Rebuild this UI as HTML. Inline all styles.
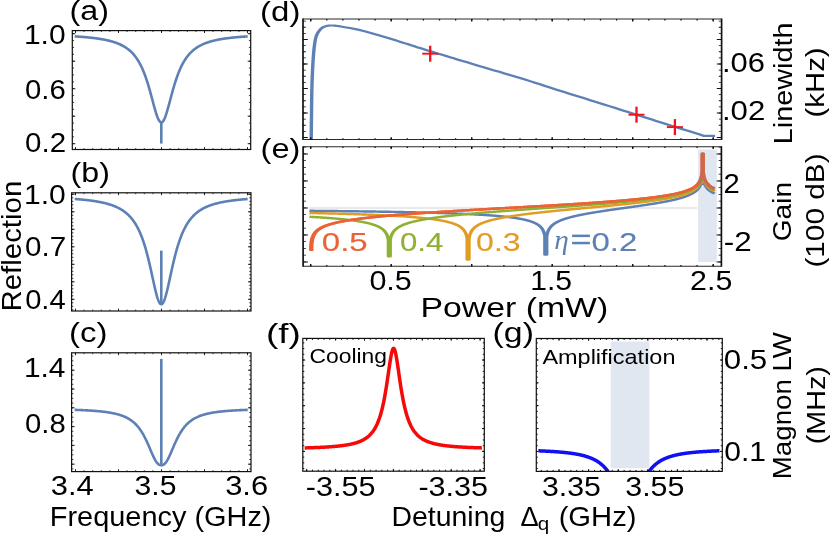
<!DOCTYPE html>
<html><head><meta charset="utf-8"><title>figure</title>
<style>html,body{margin:0;padding:0;background:#fff;}body{width:830px;height:535px;overflow:hidden;font-family:"Liberation Sans",sans-serif;}svg{display:block;will-change:transform;transform:translateZ(0)}</style>
</head><body>
<svg width="830" height="535" viewBox="0 0 830 535">
<rect width="830" height="535" fill="#fff"/>
<path d="M74.70,36.38 L75.20,36.42 L75.70,36.45 L76.20,36.48 L76.70,36.51 L77.20,36.54 L77.70,36.57 L78.20,36.61 L78.70,36.64 L79.20,36.68 L79.70,36.71 L80.20,36.75 L80.70,36.79 L81.20,36.82 L81.70,36.86 L82.20,36.90 L82.70,36.94 L83.20,36.98 L83.70,37.02 L84.20,37.06 L84.70,37.10 L85.20,37.15 L85.70,37.19 L86.20,37.23 L86.70,37.28 L87.20,37.33 L87.70,37.37 L88.20,37.42 L88.70,37.47 L89.20,37.52 L89.70,37.57 L90.20,37.63 L90.70,37.68 L91.20,37.73 L91.70,37.79 L92.20,37.85 L92.70,37.90 L93.20,37.96 L93.70,38.02 L94.20,38.08 L94.70,38.15 L95.20,38.21 L95.70,38.28 L96.20,38.34 L96.70,38.41 L97.20,38.48 L97.70,38.55 L98.20,38.63 L98.70,38.70 L99.20,38.78 L99.70,38.85 L100.20,38.93 L100.70,39.02 L101.20,39.10 L101.70,39.18 L102.20,39.27 L102.70,39.36 L103.20,39.45 L103.70,39.55 L104.20,39.64 L104.70,39.74 L105.20,39.84 L105.70,39.94 L106.20,40.05 L106.70,40.16 L107.20,40.27 L107.70,40.38 L108.20,40.50 L108.70,40.62 L109.20,40.74 L109.70,40.87 L110.20,41.00 L110.70,41.13 L111.20,41.27 L111.70,41.41 L112.20,41.55 L112.70,41.70 L113.20,41.85 L113.70,42.01 L114.20,42.17 L114.70,42.33 L115.20,42.50 L115.70,42.68 L116.20,42.85 L116.70,43.04 L117.20,43.23 L117.70,43.43 L118.20,43.63 L118.70,43.83 L119.20,44.05 L119.70,44.27 L120.20,44.50 L120.70,44.73 L121.20,44.97 L121.70,45.22 L122.20,45.48 L122.70,45.74 L123.20,46.02 L123.70,46.30 L124.20,46.59 L124.70,46.89 L125.20,47.21 L125.70,47.53 L126.20,47.86 L126.70,48.21 L127.20,48.56 L127.70,48.93 L128.20,49.32 L128.70,49.71 L129.20,50.12 L129.70,50.54 L130.20,50.98 L130.70,51.44 L131.20,51.91 L131.70,52.40 L132.20,52.91 L132.70,53.44 L133.20,53.98 L133.70,54.55 L134.20,55.14 L134.70,55.75 L135.20,56.39 L135.70,57.04 L136.20,57.73 L136.70,58.44 L137.20,59.18 L137.70,59.95 L138.20,60.75 L138.70,61.58 L139.20,62.44 L139.70,63.34 L140.20,64.27 L140.70,65.23 L141.20,66.24 L141.70,67.28 L142.20,68.37 L142.70,69.50 L143.20,70.67 L143.70,71.88 L144.20,73.14 L144.70,74.44 L145.20,75.79 L145.70,77.19 L146.20,78.63 L146.70,80.13 L147.20,81.66 L147.70,83.25 L148.20,84.88 L148.70,86.55 L149.20,88.27 L149.70,90.02 L150.20,91.81 L150.70,93.63 L151.20,95.48 L151.70,97.34 L152.20,99.22 L152.70,101.10 L153.20,102.98 L153.70,104.85 L154.20,106.68 L154.70,108.48 L155.20,110.23 L155.70,111.92 L156.20,113.53 L156.70,115.05 L157.20,116.46 L157.70,117.75 L158.20,118.90 L158.70,119.91 L159.20,120.76 L159.70,121.44 L160.20,121.94 L160.70,122.26 L161.20,122.40 L161.70,122.34 L162.20,122.09 L162.70,121.66 L163.20,121.05 L163.70,120.27 L164.20,119.32 L164.70,118.23 L165.20,116.99 L165.70,115.62 L166.20,114.15 L166.70,112.57 L167.20,110.92 L167.70,109.19 L168.20,107.41 L168.70,105.58 L169.20,103.73 L169.70,101.86 L170.20,99.97 L170.70,98.09 L171.20,96.22 L171.70,94.37 L172.20,92.54 L172.70,90.74 L173.20,88.97 L173.70,87.24 L174.20,85.54 L174.70,83.90 L175.20,82.29 L175.70,80.74 L176.20,79.22 L176.70,77.76 L177.20,76.34 L177.70,74.98 L178.20,73.65 L178.70,72.38 L179.20,71.15 L179.70,69.96 L180.20,68.82 L180.70,67.71 L181.20,66.65 L181.70,65.63 L182.20,64.65 L182.70,63.70 L183.20,62.79 L183.70,61.92 L184.20,61.07 L184.70,60.26 L185.20,59.48 L185.70,58.73 L186.20,58.01 L186.70,57.32 L187.20,56.65 L187.70,56.00 L188.20,55.38 L188.70,54.78 L189.20,54.21 L189.70,53.65 L190.20,53.12 L190.70,52.60 L191.20,52.11 L191.70,51.63 L192.20,51.16 L192.70,50.72 L193.20,50.29 L193.70,49.87 L194.20,49.47 L194.70,49.08 L195.20,48.71 L195.70,48.35 L196.20,48.00 L196.70,47.66 L197.20,47.33 L197.70,47.02 L198.20,46.71 L198.70,46.42 L199.20,46.13 L199.70,45.85 L200.20,45.58 L200.70,45.32 L201.20,45.07 L201.70,44.83 L202.20,44.59 L202.70,44.36 L203.20,44.14 L203.70,43.92 L204.20,43.71 L204.70,43.51 L205.20,43.31 L205.70,43.11 L206.20,42.93 L206.70,42.75 L207.20,42.57 L207.70,42.40 L208.20,42.23 L208.70,42.07 L209.20,41.91 L209.70,41.76 L210.20,41.61 L210.70,41.46 L211.20,41.32 L211.70,41.18 L212.20,41.05 L212.70,40.92 L213.20,40.79 L213.70,40.67 L214.20,40.55 L214.70,40.43 L215.20,40.31 L215.70,40.20 L216.20,40.09 L216.70,39.99 L217.20,39.88 L217.70,39.78 L218.20,39.68 L218.70,39.58 L219.20,39.49 L219.70,39.40 L220.20,39.31 L220.70,39.22 L221.20,39.13 L221.70,39.05 L222.20,38.97 L222.70,38.89 L223.20,38.81 L223.70,38.73 L224.20,38.65 L224.70,38.58 L225.20,38.51 L225.70,38.44 L226.20,38.37 L226.70,38.30 L227.20,38.24 L227.70,38.17 L228.20,38.11 L228.70,38.05 L229.20,37.99 L229.70,37.93 L230.20,37.87 L230.70,37.81 L231.20,37.76 L231.70,37.70 L232.20,37.65 L232.70,37.59 L233.20,37.54 L233.70,37.49 L234.20,37.44 L234.70,37.39 L235.20,37.35 L235.70,37.30 L236.20,37.25 L236.70,37.21 L237.20,37.16 L237.70,37.12 L238.20,37.08 L238.70,37.04 L239.20,36.99 L239.70,36.95 L240.20,36.91 L240.70,36.88 L241.20,36.84 L241.70,36.80 L242.20,36.76 L242.70,36.73 L243.20,36.69 L243.70,36.66 L244.20,36.62 L244.70,36.59 L245.20,36.55 L245.70,36.52 L246.20,36.49 L246.70,36.46 L247.20,36.43 L247.70,36.40" fill="none" stroke="#5E81B5" stroke-width="2.6" stroke-linejoin="round" />
<path d="M161.30,122.40 L161.30,143.60" fill="none" stroke="#5E81B5" stroke-width="2.6" stroke-linejoin="round" />
<path d="M74.70,198.99 L75.20,199.02 L75.70,199.06 L76.20,199.10 L76.70,199.14 L77.20,199.18 L77.70,199.22 L78.20,199.26 L78.70,199.30 L79.20,199.35 L79.70,199.39 L80.20,199.43 L80.70,199.48 L81.20,199.52 L81.70,199.57 L82.20,199.62 L82.70,199.66 L83.20,199.71 L83.70,199.76 L84.20,199.81 L84.70,199.87 L85.20,199.92 L85.70,199.97 L86.20,200.03 L86.70,200.08 L87.20,200.14 L87.70,200.20 L88.20,200.26 L88.70,200.32 L89.20,200.38 L89.70,200.44 L90.20,200.51 L90.70,200.57 L91.20,200.64 L91.70,200.71 L92.20,200.78 L92.70,200.85 L93.20,200.92 L93.70,200.99 L94.20,201.07 L94.70,201.14 L95.20,201.22 L95.70,201.30 L96.20,201.38 L96.70,201.47 L97.20,201.55 L97.70,201.64 L98.20,201.73 L98.70,201.82 L99.20,201.91 L99.70,202.01 L100.20,202.11 L100.70,202.21 L101.20,202.31 L101.70,202.41 L102.20,202.52 L102.70,202.63 L103.20,202.74 L103.70,202.86 L104.20,202.97 L104.70,203.10 L105.20,203.22 L105.70,203.34 L106.20,203.47 L106.70,203.61 L107.20,203.74 L107.70,203.88 L108.20,204.03 L108.70,204.17 L109.20,204.32 L109.70,204.48 L110.20,204.63 L110.70,204.80 L111.20,204.96 L111.70,205.14 L112.20,205.31 L112.70,205.49 L113.20,205.68 L113.70,205.87 L114.20,206.07 L114.70,206.27 L115.20,206.48 L115.70,206.69 L116.20,206.91 L116.70,207.13 L117.20,207.37 L117.70,207.61 L118.20,207.85 L118.70,208.11 L119.20,208.37 L119.70,208.64 L120.20,208.92 L120.70,209.20 L121.20,209.50 L121.70,209.81 L122.20,210.12 L122.70,210.45 L123.20,210.78 L123.70,211.13 L124.20,211.49 L124.70,211.85 L125.20,212.24 L125.70,212.63 L126.20,213.04 L126.70,213.46 L127.20,213.90 L127.70,214.35 L128.20,214.82 L128.70,215.30 L129.20,215.80 L129.70,216.32 L130.20,216.86 L130.70,217.42 L131.20,218.00 L131.70,218.60 L132.20,219.22 L132.70,219.86 L133.20,220.53 L133.70,221.23 L134.20,221.95 L134.70,222.70 L135.20,223.47 L135.70,224.28 L136.20,225.12 L136.70,225.99 L137.20,226.90 L137.70,227.84 L138.20,228.81 L138.70,229.83 L139.20,230.89 L139.70,231.98 L140.20,233.12 L140.70,234.31 L141.20,235.54 L141.70,236.82 L142.20,238.15 L142.70,239.53 L143.20,240.96 L143.70,242.44 L144.20,243.99 L144.70,245.58 L145.20,247.23 L145.70,248.95 L146.20,250.71 L146.70,252.54 L147.20,254.43 L147.70,256.37 L148.20,258.36 L148.70,260.41 L149.20,262.51 L149.70,264.66 L150.20,266.85 L150.70,269.08 L151.20,271.34 L151.70,273.62 L152.20,275.92 L152.70,278.23 L153.20,280.53 L153.70,282.81 L154.20,285.06 L154.70,287.26 L155.20,289.41 L155.70,291.47 L156.20,293.44 L156.70,295.30 L157.20,297.02 L157.70,298.60 L158.20,300.02 L158.70,301.25 L159.20,302.29 L159.70,303.13 L160.20,303.74 L160.70,304.13 L161.20,304.30 L161.70,304.23 L162.20,303.93 L162.70,303.40 L163.20,302.65 L163.70,301.69 L164.20,300.53 L164.70,299.19 L165.20,297.67 L165.70,296.00 L166.20,294.20 L166.70,292.27 L167.20,290.24 L167.70,288.13 L168.20,285.95 L168.70,283.71 L169.20,281.44 L169.70,279.15 L170.20,276.84 L170.70,274.54 L171.20,272.25 L171.70,269.98 L172.20,267.74 L172.70,265.53 L173.20,263.37 L173.70,261.25 L174.20,259.18 L174.70,257.16 L175.20,255.19 L175.70,253.29 L176.20,251.44 L176.70,249.65 L177.20,247.91 L177.70,246.24 L178.20,244.62 L178.70,243.05 L179.20,241.55 L179.70,240.09 L180.20,238.69 L180.70,237.34 L181.20,236.05 L181.70,234.80 L182.20,233.59 L182.70,232.43 L183.20,231.32 L183.70,230.25 L184.20,229.22 L184.70,228.22 L185.20,227.27 L185.70,226.35 L186.20,225.46 L186.70,224.61 L187.20,223.79 L187.70,223.00 L188.20,222.25 L188.70,221.51 L189.20,220.81 L189.70,220.13 L190.20,219.47 L190.70,218.84 L191.20,218.24 L191.70,217.65 L192.20,217.08 L192.70,216.54 L193.20,216.01 L193.70,215.50 L194.20,215.01 L194.70,214.54 L195.20,214.08 L195.70,213.64 L196.20,213.21 L196.70,212.79 L197.20,212.39 L197.70,212.01 L198.20,211.63 L198.70,211.27 L199.20,210.92 L199.70,210.58 L200.20,210.25 L200.70,209.93 L201.20,209.62 L201.70,209.32 L202.20,209.03 L202.70,208.75 L203.20,208.48 L203.70,208.21 L204.20,207.95 L204.70,207.70 L205.20,207.46 L205.70,207.23 L206.20,207.00 L206.70,206.78 L207.20,206.56 L207.70,206.35 L208.20,206.15 L208.70,205.95 L209.20,205.75 L209.70,205.57 L210.20,205.38 L210.70,205.21 L211.20,205.03 L211.70,204.86 L212.20,204.70 L212.70,204.54 L213.20,204.38 L213.70,204.23 L214.20,204.08 L214.70,203.94 L215.20,203.80 L215.70,203.66 L216.20,203.53 L216.70,203.40 L217.20,203.27 L217.70,203.14 L218.20,203.02 L218.70,202.90 L219.20,202.79 L219.70,202.68 L220.20,202.56 L220.70,202.46 L221.20,202.35 L221.70,202.25 L222.20,202.15 L222.70,202.05 L223.20,201.95 L223.70,201.86 L224.20,201.77 L224.70,201.68 L225.20,201.59 L225.70,201.50 L226.20,201.42 L226.70,201.34 L227.20,201.25 L227.70,201.18 L228.20,201.10 L228.70,201.02 L229.20,200.95 L229.70,200.87 L230.20,200.80 L230.70,200.73 L231.20,200.67 L231.70,200.60 L232.20,200.53 L232.70,200.47 L233.20,200.40 L233.70,200.34 L234.20,200.28 L234.70,200.22 L235.20,200.16 L235.70,200.11 L236.20,200.05 L236.70,199.99 L237.20,199.94 L237.70,199.89 L238.20,199.84 L238.70,199.78 L239.20,199.73 L239.70,199.68 L240.20,199.64 L240.70,199.59 L241.20,199.54 L241.70,199.50 L242.20,199.45 L242.70,199.41 L243.20,199.36 L243.70,199.32 L244.20,199.28 L244.70,199.24 L245.20,199.20 L245.70,199.16 L246.20,199.12 L246.70,199.08 L247.20,199.04 L247.70,199.00" fill="none" stroke="#5E81B5" stroke-width="2.6" stroke-linejoin="round" />
<path d="M161.30,304.30 L161.30,250.60" fill="none" stroke="#5E81B5" stroke-width="2.6" stroke-linejoin="round" />
<path d="M74.70,409.84 L75.20,409.86 L75.70,409.87 L76.20,409.89 L76.70,409.91 L77.20,409.93 L77.70,409.95 L78.20,409.97 L78.70,409.99 L79.20,410.01 L79.70,410.03 L80.20,410.05 L80.70,410.07 L81.20,410.09 L81.70,410.11 L82.20,410.13 L82.70,410.16 L83.20,410.18 L83.70,410.21 L84.20,410.23 L84.70,410.25 L85.20,410.28 L85.70,410.31 L86.20,410.33 L86.70,410.36 L87.20,410.39 L87.70,410.42 L88.20,410.44 L88.70,410.47 L89.20,410.50 L89.70,410.53 L90.20,410.57 L90.70,410.60 L91.20,410.63 L91.70,410.66 L92.20,410.70 L92.70,410.73 L93.20,410.77 L93.70,410.81 L94.20,410.84 L94.70,410.88 L95.20,410.92 L95.70,410.96 L96.20,411.00 L96.70,411.05 L97.20,411.09 L97.70,411.13 L98.20,411.18 L98.70,411.23 L99.20,411.27 L99.70,411.32 L100.20,411.37 L100.70,411.42 L101.20,411.48 L101.70,411.53 L102.20,411.58 L102.70,411.64 L103.20,411.70 L103.70,411.76 L104.20,411.82 L104.70,411.88 L105.20,411.95 L105.70,412.01 L106.20,412.08 L106.70,412.15 L107.20,412.23 L107.70,412.30 L108.20,412.38 L108.70,412.45 L109.20,412.53 L109.70,412.62 L110.20,412.70 L110.70,412.79 L111.20,412.88 L111.70,412.97 L112.20,413.07 L112.70,413.17 L113.20,413.27 L113.70,413.37 L114.20,413.48 L114.70,413.59 L115.20,413.71 L115.70,413.83 L116.20,413.95 L116.70,414.07 L117.20,414.20 L117.70,414.34 L118.20,414.48 L118.70,414.62 L119.20,414.77 L119.70,414.92 L120.20,415.08 L120.70,415.24 L121.20,415.41 L121.70,415.58 L122.20,415.77 L122.70,415.95 L123.20,416.15 L123.70,416.35 L124.20,416.55 L124.70,416.77 L125.20,416.99 L125.70,417.22 L126.20,417.46 L126.70,417.71 L127.20,417.97 L127.70,418.24 L128.20,418.51 L128.70,418.80 L129.20,419.10 L129.70,419.41 L130.20,419.73 L130.70,420.07 L131.20,420.42 L131.70,420.78 L132.20,421.16 L132.70,421.55 L133.20,421.95 L133.70,422.38 L134.20,422.82 L134.70,423.27 L135.20,423.75 L135.70,424.24 L136.20,424.76 L136.70,425.29 L137.20,425.85 L137.70,426.43 L138.20,427.03 L138.70,427.65 L139.20,428.30 L139.70,428.98 L140.20,429.68 L140.70,430.40 L141.20,431.16 L141.70,431.94 L142.20,432.75 L142.70,433.59 L143.20,434.46 L143.70,435.35 L144.20,436.28 L144.70,437.24 L145.20,438.22 L145.70,439.23 L146.20,440.27 L146.70,441.33 L147.20,442.41 L147.70,443.52 L148.20,444.65 L148.70,445.79 L149.20,446.95 L149.70,448.11 L150.20,449.28 L150.70,450.45 L151.20,451.62 L151.70,452.77 L152.20,453.91 L152.70,455.02 L153.20,456.11 L153.70,457.16 L154.20,458.17 L154.70,459.13 L155.20,460.03 L155.70,460.87 L156.20,461.65 L156.70,462.35 L157.20,462.98 L157.70,463.53 L158.20,464.00 L158.70,464.39 L159.20,464.70 L159.70,464.93 L160.20,465.08 L160.70,465.17 L161.20,465.20 L161.70,465.19 L162.20,465.13 L162.70,465.00 L163.20,464.80 L163.70,464.52 L164.20,464.17 L164.70,463.73 L165.20,463.21 L165.70,462.61 L166.20,461.94 L166.70,461.19 L167.20,460.38 L167.70,459.50 L168.20,458.56 L168.70,457.57 L169.20,456.54 L169.70,455.46 L170.20,454.36 L170.70,453.23 L171.20,452.08 L171.70,450.92 L172.20,449.75 L172.70,448.58 L173.20,447.41 L173.70,446.25 L174.20,445.10 L174.70,443.97 L175.20,442.85 L175.70,441.76 L176.20,440.69 L176.70,439.64 L177.20,438.62 L177.70,437.63 L178.20,436.66 L178.70,435.72 L179.20,434.81 L179.70,433.93 L180.20,433.08 L180.70,432.26 L181.20,431.47 L181.70,430.70 L182.20,429.96 L182.70,429.25 L183.20,428.57 L183.70,427.91 L184.20,427.27 L184.70,426.66 L185.20,426.08 L185.70,425.51 L186.20,424.97 L186.70,424.45 L187.20,423.94 L187.70,423.46 L188.20,423.00 L188.70,422.55 L189.20,422.12 L189.70,421.71 L190.20,421.31 L190.70,420.93 L191.20,420.56 L191.70,420.21 L192.20,419.87 L192.70,419.54 L193.20,419.22 L193.70,418.92 L194.20,418.63 L194.70,418.35 L195.20,418.08 L195.70,417.81 L196.20,417.56 L196.70,417.32 L197.20,417.08 L197.70,416.86 L198.20,416.64 L198.70,416.43 L199.20,416.23 L199.70,416.03 L200.20,415.84 L200.70,415.66 L201.20,415.48 L201.70,415.31 L202.20,415.14 L202.70,414.98 L203.20,414.83 L203.70,414.68 L204.20,414.53 L204.70,414.39 L205.20,414.26 L205.70,414.12 L206.20,414.00 L206.70,413.87 L207.20,413.75 L207.70,413.64 L208.20,413.53 L208.70,413.42 L209.20,413.31 L209.70,413.21 L210.20,413.11 L210.70,413.01 L211.20,412.92 L211.70,412.83 L212.20,412.74 L212.70,412.65 L213.20,412.57 L213.70,412.49 L214.20,412.41 L214.70,412.33 L215.20,412.25 L215.70,412.18 L216.20,412.11 L216.70,412.04 L217.20,411.97 L217.70,411.91 L218.20,411.85 L218.70,411.78 L219.20,411.72 L219.70,411.66 L220.20,411.61 L220.70,411.55 L221.20,411.50 L221.70,411.44 L222.20,411.39 L222.70,411.34 L223.20,411.29 L223.70,411.24 L224.20,411.20 L224.70,411.15 L225.20,411.11 L225.70,411.06 L226.20,411.02 L226.70,410.98 L227.20,410.94 L227.70,410.90 L228.20,410.86 L228.70,410.82 L229.20,410.78 L229.70,410.75 L230.20,410.71 L230.70,410.68 L231.20,410.64 L231.70,410.61 L232.20,410.58 L232.70,410.55 L233.20,410.52 L233.70,410.49 L234.20,410.46 L234.70,410.43 L235.20,410.40 L235.70,410.37 L236.20,410.34 L236.70,410.32 L237.20,410.29 L237.70,410.26 L238.20,410.24 L238.70,410.21 L239.20,410.19 L239.70,410.17 L240.20,410.14 L240.70,410.12 L241.20,410.10 L241.70,410.08 L242.20,410.06 L242.70,410.03 L243.20,410.01 L243.70,409.99 L244.20,409.97 L244.70,409.95 L245.20,409.94 L245.70,409.92 L246.20,409.90 L246.70,409.88 L247.20,409.86 L247.70,409.85" fill="none" stroke="#5E81B5" stroke-width="2.6" stroke-linejoin="round" />
<path d="M161.30,465.20 L161.30,358.90" fill="none" stroke="#5E81B5" stroke-width="2.6" stroke-linejoin="round" />
<rect x="72.30" y="30.60" width="178.40" height="118.90" fill="none" stroke="#111" stroke-width="1.2"/>
<path d="M75.50,149.50v-1.40M84.10,149.50v-1.40M92.70,149.50v-1.40M101.30,149.50v-1.40M109.90,149.50v-1.40M118.50,149.50v-1.40M127.10,149.50v-1.40M135.70,149.50v-1.40M144.30,149.50v-1.40M152.90,149.50v-1.40M161.50,149.50v-1.40M170.10,149.50v-1.40M178.70,149.50v-1.40M187.30,149.50v-1.40M195.90,149.50v-1.40M204.50,149.50v-1.40M213.10,149.50v-1.40M221.70,149.50v-1.40M230.30,149.50v-1.40M238.90,149.50v-1.40M247.50,149.50v-1.40" stroke="#111" stroke-width="0.8" fill="none"/>
<path d="M75.50,149.50v-2.40M118.50,149.50v-2.40M161.50,149.50v-2.40M204.50,149.50v-2.40M247.50,149.50v-2.40" stroke="#111" stroke-width="0.9" fill="none"/>
<path d="M75.50,30.60v1.40M84.10,30.60v1.40M92.70,30.60v1.40M101.30,30.60v1.40M109.90,30.60v1.40M118.50,30.60v1.40M127.10,30.60v1.40M135.70,30.60v1.40M144.30,30.60v1.40M152.90,30.60v1.40M161.50,30.60v1.40M170.10,30.60v1.40M178.70,30.60v1.40M187.30,30.60v1.40M195.90,30.60v1.40M204.50,30.60v1.40M213.10,30.60v1.40M221.70,30.60v1.40M230.30,30.60v1.40M238.90,30.60v1.40M247.50,30.60v1.40" stroke="#111" stroke-width="0.8" fill="none"/>
<path d="M75.50,30.60v2.40M118.50,30.60v2.40M161.50,30.60v2.40M204.50,30.60v2.40M247.50,30.60v2.40" stroke="#111" stroke-width="0.9" fill="none"/>
<path d="M72.30,33.70h1.80M72.30,40.58h1.80M72.30,47.45h1.80M72.30,54.33h1.80M72.30,61.20h1.80M72.30,68.08h1.80M72.30,74.95h1.80M72.30,81.83h1.80M72.30,88.70h1.80M72.30,95.58h1.80M72.30,102.45h1.80M72.30,109.33h1.80M72.30,116.20h1.80M72.30,123.08h1.80M72.30,129.95h1.80M72.30,136.82h1.80M72.30,143.70h1.80" stroke="#111" stroke-width="0.8" fill="none"/>
<path d="M72.30,33.70h3.00M72.30,61.20h3.00M72.30,88.70h3.00M72.30,116.20h3.00M72.30,143.70h3.00" stroke="#111" stroke-width="0.9" fill="none"/>
<path d="M250.70,33.70h-1.80M250.70,40.58h-1.80M250.70,47.45h-1.80M250.70,54.33h-1.80M250.70,61.20h-1.80M250.70,68.08h-1.80M250.70,74.95h-1.80M250.70,81.83h-1.80M250.70,88.70h-1.80M250.70,95.58h-1.80M250.70,102.45h-1.80M250.70,109.33h-1.80M250.70,116.20h-1.80M250.70,123.08h-1.80M250.70,129.95h-1.80M250.70,136.82h-1.80M250.70,143.70h-1.80" stroke="#111" stroke-width="0.8" fill="none"/>
<path d="M250.70,33.70h-3.00M250.70,61.20h-3.00M250.70,88.70h-3.00M250.70,116.20h-3.00M250.70,143.70h-3.00" stroke="#111" stroke-width="0.9" fill="none"/>
<rect x="71.60" y="192.80" width="179.40" height="118.20" fill="none" stroke="#111" stroke-width="1.2"/>
<path d="M75.50,311.00v-1.40M84.10,311.00v-1.40M92.70,311.00v-1.40M101.30,311.00v-1.40M109.90,311.00v-1.40M118.50,311.00v-1.40M127.10,311.00v-1.40M135.70,311.00v-1.40M144.30,311.00v-1.40M152.90,311.00v-1.40M161.50,311.00v-1.40M170.10,311.00v-1.40M178.70,311.00v-1.40M187.30,311.00v-1.40M195.90,311.00v-1.40M204.50,311.00v-1.40M213.10,311.00v-1.40M221.70,311.00v-1.40M230.30,311.00v-1.40M238.90,311.00v-1.40M247.50,311.00v-1.40" stroke="#111" stroke-width="0.8" fill="none"/>
<path d="M75.50,311.00v-2.40M118.50,311.00v-2.40M161.50,311.00v-2.40M204.50,311.00v-2.40M247.50,311.00v-2.40" stroke="#111" stroke-width="0.9" fill="none"/>
<path d="M75.50,192.80v1.40M84.10,192.80v1.40M92.70,192.80v1.40M101.30,192.80v1.40M109.90,192.80v1.40M118.50,192.80v1.40M127.10,192.80v1.40M135.70,192.80v1.40M144.30,192.80v1.40M152.90,192.80v1.40M161.50,192.80v1.40M170.10,192.80v1.40M178.70,192.80v1.40M187.30,192.80v1.40M195.90,192.80v1.40M204.50,192.80v1.40M213.10,192.80v1.40M221.70,192.80v1.40M230.30,192.80v1.40M238.90,192.80v1.40M247.50,192.80v1.40" stroke="#111" stroke-width="0.8" fill="none"/>
<path d="M75.50,192.80v2.40M118.50,192.80v2.40M161.50,192.80v2.40M204.50,192.80v2.40M247.50,192.80v2.40" stroke="#111" stroke-width="0.9" fill="none"/>
<path d="M71.60,194.30h1.80M71.60,197.80h1.80M71.60,201.30h1.80M71.60,204.80h1.80M71.60,208.30h1.80M71.60,211.80h1.80M71.60,215.30h1.80M71.60,218.80h1.80M71.60,222.30h1.80M71.60,225.80h1.80M71.60,229.30h1.80M71.60,232.80h1.80M71.60,236.30h1.80M71.60,239.80h1.80M71.60,243.30h1.80M71.60,246.80h1.80M71.60,250.30h1.80M71.60,253.80h1.80M71.60,257.30h1.80M71.60,260.80h1.80M71.60,264.30h1.80M71.60,267.80h1.80M71.60,271.30h1.80M71.60,274.80h1.80M71.60,278.30h1.80M71.60,281.80h1.80M71.60,285.30h1.80M71.60,288.80h1.80M71.60,292.30h1.80M71.60,295.80h1.80M71.60,299.30h1.80M71.60,302.80h1.80M71.60,306.30h1.80M71.60,309.80h1.80" stroke="#111" stroke-width="0.8" fill="none"/>
<path d="M71.60,194.30h3.00M71.60,211.80h3.00M71.60,229.30h3.00M71.60,246.80h3.00M71.60,264.30h3.00M71.60,281.80h3.00M71.60,299.30h3.00" stroke="#111" stroke-width="0.9" fill="none"/>
<path d="M251.00,194.30h-1.80M251.00,197.80h-1.80M251.00,201.30h-1.80M251.00,204.80h-1.80M251.00,208.30h-1.80M251.00,211.80h-1.80M251.00,215.30h-1.80M251.00,218.80h-1.80M251.00,222.30h-1.80M251.00,225.80h-1.80M251.00,229.30h-1.80M251.00,232.80h-1.80M251.00,236.30h-1.80M251.00,239.80h-1.80M251.00,243.30h-1.80M251.00,246.80h-1.80M251.00,250.30h-1.80M251.00,253.80h-1.80M251.00,257.30h-1.80M251.00,260.80h-1.80M251.00,264.30h-1.80M251.00,267.80h-1.80M251.00,271.30h-1.80M251.00,274.80h-1.80M251.00,278.30h-1.80M251.00,281.80h-1.80M251.00,285.30h-1.80M251.00,288.80h-1.80M251.00,292.30h-1.80M251.00,295.80h-1.80M251.00,299.30h-1.80M251.00,302.80h-1.80M251.00,306.30h-1.80M251.00,309.80h-1.80" stroke="#111" stroke-width="0.8" fill="none"/>
<path d="M251.00,194.30h-3.00M251.00,211.80h-3.00M251.00,229.30h-3.00M251.00,246.80h-3.00M251.00,264.30h-3.00M251.00,281.80h-3.00M251.00,299.30h-3.00" stroke="#111" stroke-width="0.9" fill="none"/>
<rect x="71.60" y="352.80" width="179.40" height="118.80" fill="none" stroke="#111" stroke-width="1.2"/>
<path d="M75.50,471.60v-1.40M84.10,471.60v-1.40M92.70,471.60v-1.40M101.30,471.60v-1.40M109.90,471.60v-1.40M118.50,471.60v-1.40M127.10,471.60v-1.40M135.70,471.60v-1.40M144.30,471.60v-1.40M152.90,471.60v-1.40M161.50,471.60v-1.40M170.10,471.60v-1.40M178.70,471.60v-1.40M187.30,471.60v-1.40M195.90,471.60v-1.40M204.50,471.60v-1.40M213.10,471.60v-1.40M221.70,471.60v-1.40M230.30,471.60v-1.40M238.90,471.60v-1.40M247.50,471.60v-1.40" stroke="#111" stroke-width="0.8" fill="none"/>
<path d="M75.50,471.60v-2.40M118.50,471.60v-2.40M161.50,471.60v-2.40M204.50,471.60v-2.40M247.50,471.60v-2.40" stroke="#111" stroke-width="0.9" fill="none"/>
<path d="M75.50,352.80v1.40M84.10,352.80v1.40M92.70,352.80v1.40M101.30,352.80v1.40M109.90,352.80v1.40M118.50,352.80v1.40M127.10,352.80v1.40M135.70,352.80v1.40M144.30,352.80v1.40M152.90,352.80v1.40M161.50,352.80v1.40M170.10,352.80v1.40M178.70,352.80v1.40M187.30,352.80v1.40M195.90,352.80v1.40M204.50,352.80v1.40M213.10,352.80v1.40M221.70,352.80v1.40M230.30,352.80v1.40M238.90,352.80v1.40M247.50,352.80v1.40" stroke="#111" stroke-width="0.8" fill="none"/>
<path d="M75.50,352.80v2.40M118.50,352.80v2.40M161.50,352.80v2.40M204.50,352.80v2.40M247.50,352.80v2.40" stroke="#111" stroke-width="0.9" fill="none"/>
<path d="M71.60,356.10h1.80M71.60,360.80h1.80M71.60,365.50h1.80M71.60,370.20h1.80M71.60,374.90h1.80M71.60,379.60h1.80M71.60,384.30h1.80M71.60,389.00h1.80M71.60,393.70h1.80M71.60,398.40h1.80M71.60,403.10h1.80M71.60,407.80h1.80M71.60,412.50h1.80M71.60,417.20h1.80M71.60,421.90h1.80M71.60,426.60h1.80M71.60,431.30h1.80M71.60,436.00h1.80M71.60,440.70h1.80M71.60,445.40h1.80M71.60,450.10h1.80M71.60,454.80h1.80M71.60,459.50h1.80M71.60,464.20h1.80M71.60,468.90h1.80" stroke="#111" stroke-width="0.8" fill="none"/>
<path d="M71.60,370.20h3.00M71.60,389.00h3.00M71.60,407.80h3.00M71.60,426.60h3.00M71.60,445.40h3.00M71.60,464.20h3.00" stroke="#111" stroke-width="0.9" fill="none"/>
<path d="M251.00,356.10h-1.80M251.00,360.80h-1.80M251.00,365.50h-1.80M251.00,370.20h-1.80M251.00,374.90h-1.80M251.00,379.60h-1.80M251.00,384.30h-1.80M251.00,389.00h-1.80M251.00,393.70h-1.80M251.00,398.40h-1.80M251.00,403.10h-1.80M251.00,407.80h-1.80M251.00,412.50h-1.80M251.00,417.20h-1.80M251.00,421.90h-1.80M251.00,426.60h-1.80M251.00,431.30h-1.80M251.00,436.00h-1.80M251.00,440.70h-1.80M251.00,445.40h-1.80M251.00,450.10h-1.80M251.00,454.80h-1.80M251.00,459.50h-1.80M251.00,464.20h-1.80M251.00,468.90h-1.80" stroke="#111" stroke-width="0.8" fill="none"/>
<path d="M251.00,370.20h-3.00M251.00,389.00h-3.00M251.00,407.80h-3.00M251.00,426.60h-3.00M251.00,445.40h-3.00M251.00,464.20h-3.00" stroke="#111" stroke-width="0.9" fill="none"/>
<text transform="translate(23.95,44.03) scale(1.0979,1)" font-family='"Liberation Sans", sans-serif' font-size="27.32" fill="#000"  >1.0</text>
<text transform="translate(25.03,98.83) scale(1.0728,1)" font-family='"Liberation Sans", sans-serif' font-size="27.32" fill="#000"  >0.6</text>
<text transform="translate(25.02,152.03) scale(1.0810,1)" font-family='"Liberation Sans", sans-serif' font-size="27.32" fill="#000"  >0.2</text>
<text transform="translate(24.04,203.73) scale(1.1008,1)" font-family='"Liberation Sans", sans-serif' font-size="27.32" fill="#000"  >1.0</text>
<text transform="translate(25.12,256.43) scale(1.0839,1)" font-family='"Liberation Sans", sans-serif' font-size="27.32" fill="#000"  >0.7</text>
<text transform="translate(25.13,308.73) scale(1.0674,1)" font-family='"Liberation Sans", sans-serif' font-size="27.32" fill="#000"  >0.4</text>
<text transform="translate(23.96,376.70) scale(1.0629,1)" font-family='"Liberation Sans", sans-serif' font-size="28.12" fill="#000"  >1.4</text>
<text transform="translate(25.03,432.73) scale(1.0728,1)" font-family='"Liberation Sans", sans-serif' font-size="27.32" fill="#000"  >0.8</text>
<text transform="translate(50.86,495.43) scale(1.1312,1)" font-family='"Liberation Sans", sans-serif' font-size="27.32" fill="#000"  >3.4</text>
<text transform="translate(134.59,495.43) scale(1.1035,1)" font-family='"Liberation Sans", sans-serif' font-size="27.32" fill="#000"  >3.5</text>
<text transform="translate(225.16,495.43) scale(1.1315,1)" font-family='"Liberation Sans", sans-serif' font-size="27.32" fill="#000"  >3.6</text>
<text transform="translate(49.79,526.40) scale(1.0558,1)" font-family='"Liberation Sans", sans-serif' font-size="27.40" fill="#000"  >Frequency (GHz)</text>
<text transform="translate(21.00,311.56) rotate(-90) scale(1.0904,1)" font-family='"Liberation Sans", sans-serif' font-size="27.00" fill="#000" >Reflection</text>
<text transform="translate(69.56,20.40) scale(1.1778,1)" font-family='"Liberation Sans", sans-serif' font-size="27.40" fill="#000"  >(a)</text>
<text transform="translate(70.57,182.30) scale(1.1745,1)" font-family='"Liberation Sans", sans-serif' font-size="27.40" fill="#000"  >(b)</text>
<text transform="translate(69.02,341.70) scale(1.2049,1)" font-family='"Liberation Sans", sans-serif' font-size="27.40" fill="#000"  >(c)</text>
<g transform="scale(1.55,1)">
<path d="M200.77,139.00 L200.79,137.17 L200.81,134.76 L200.83,131.89 L200.85,128.69 L200.88,125.27 L200.91,121.77 L200.94,118.31 L200.97,115.00 L200.99,111.75 L201.02,108.40 L201.04,104.98 L201.07,101.52 L201.10,98.07 L201.13,94.64 L201.17,91.27 L201.23,88.00 L201.28,84.79 L201.35,81.60 L201.42,78.44 L201.50,75.33 L201.58,72.28 L201.67,69.29 L201.77,66.40 L201.87,63.60 L201.98,60.86 L202.10,58.15 L202.23,55.50 L202.36,52.93 L202.50,50.48 L202.65,48.17 L202.81,46.04 L202.97,44.10 L203.13,42.39 L203.29,40.90 L203.46,39.58 L203.63,38.41 L203.82,37.34 L204.03,36.34 L204.26,35.37 L204.52,34.40 L204.81,33.45 L205.13,32.55 L205.48,31.71 L205.85,30.93 L206.22,30.21 L206.61,29.55 L206.99,28.94 L207.35,28.40 L207.72,27.93 L208.09,27.55 L208.46,27.23 L208.84,26.97 L209.21,26.75 L209.59,26.56 L209.96,26.38 L210.32,26.20 L210.68,26.03 L211.02,25.90 L211.36,25.78 L211.70,25.69 L212.05,25.62 L212.40,25.57 L212.77,25.53 L213.16,25.50 L213.56,25.48 L213.96,25.48 L214.36,25.49 L214.78,25.52 L215.22,25.56 L215.70,25.62 L216.21,25.70 L216.77,25.80 L217.37,25.91 L217.98,26.04 L218.62,26.18 L219.30,26.34 L220.02,26.52 L220.81,26.72 L221.65,26.95 L222.58,27.20 L223.58,27.47 L224.65,27.75 L225.77,28.05 L226.96,28.38 L228.20,28.74 L229.50,29.14 L230.86,29.59 L232.26,30.10 L233.74,30.68 L235.31,31.32 L236.94,32.01 L238.63,32.75 L240.34,33.51 L242.06,34.28 L243.76,35.05 L245.42,35.80 L247.06,36.54 L248.70,37.29 L250.34,38.05 L251.98,38.82 L253.61,39.59 L255.23,40.36 L256.85,41.13 L258.45,41.90 L259.99,42.65 L261.46,43.38 L262.88,44.09 L264.31,44.81 L265.80,45.56 L267.37,46.34 L269.08,47.19 L270.97,48.10 L273.06,49.10 L275.33,50.17 L277.72,51.30 L280.22,52.48 L282.76,53.67 L285.32,54.86 L287.86,56.05 L290.32,57.20 L292.70,58.31 L295.01,59.39 L297.30,60.46 L299.60,61.53 L301.95,62.62 L304.39,63.76 L306.95,64.94 L309.68,66.20 L312.59,67.53 L315.68,68.93 L318.88,70.38 L322.18,71.87 L325.52,73.38 L328.88,74.92 L332.21,76.46 L335.48,78.00 L338.71,79.55 L341.94,81.13 L345.16,82.72 L348.39,84.33 L351.61,85.95 L354.84,87.56 L358.06,89.16 L361.29,90.75 L364.53,92.33 L367.79,93.91 L371.07,95.48 L374.33,97.05 L377.58,98.61 L380.80,100.16 L383.98,101.69 L387.10,103.20 L390.14,104.68 L393.11,106.13 L396.04,107.56 L398.94,108.97 L401.82,110.39 L404.72,111.81 L407.66,113.24 L410.65,114.70 L413.72,116.20 L416.89,117.75 L420.10,119.33 L423.32,120.90 L426.51,122.46 L429.61,123.97 L432.60,125.43 L435.42,126.80 L438.19,128.14 L441.00,129.50 L443.77,130.83 L446.42,132.11 L448.88,133.29 L451.06,134.34 L452.90,135.22 L454.32,135.90 L461.35,135.90" fill="none" stroke="#5E81B5" stroke-width="2.2" stroke-linejoin="round" />
</g>
<path d="M422.2,53.7h16" stroke="#f5101a" stroke-width="1.9" fill="none"/><path d="M430.2,45.7v16" stroke="#f5101a" stroke-width="2.3" fill="none"/>
<path d="M628.5,114.7h16" stroke="#f5101a" stroke-width="1.9" fill="none"/><path d="M636.5,106.7v16" stroke="#f5101a" stroke-width="2.3" fill="none"/>
<path d="M666.9,127.1h16" stroke="#f5101a" stroke-width="1.9" fill="none"/><path d="M674.9,119.1v16" stroke="#f5101a" stroke-width="2.3" fill="none"/>
<g transform="scale(1.4,1)">
<path d="M216.43,18.60V140.10M515.43,18.60V140.10" stroke="#111" stroke-width="1.2" fill="none"/>
<path d="M216.43,19.10H515.43M216.43,139.60H515.43" stroke="#2a2a2a" stroke-width="1.0" fill="none"/>
<path d="M221.93,139.60v-1.30M233.43,139.60v-1.30M244.93,139.60v-1.30M256.43,139.60v-1.30M267.93,139.60v-1.30M279.43,139.60v-1.30M290.93,139.60v-1.30M302.43,139.60v-1.30M313.93,139.60v-1.30M325.43,139.60v-1.30M336.93,139.60v-1.30M348.43,139.60v-1.30M359.93,139.60v-1.30M371.43,139.60v-1.30M382.93,139.60v-1.30M394.43,139.60v-1.30M405.93,139.60v-1.30M417.43,139.60v-1.30M428.93,139.60v-1.30M440.43,139.60v-1.30M451.93,139.60v-1.30M463.43,139.60v-1.30M474.93,139.60v-1.30M486.43,139.60v-1.30M497.93,139.60v-1.30M509.43,139.60v-1.30" stroke="#111" stroke-width="0.9" fill="none"/>
<path d="M221.93,139.60v-2.30M279.43,139.60v-2.30M336.93,139.60v-2.30M394.43,139.60v-2.30M451.93,139.60v-2.30M509.43,139.60v-2.30" stroke="#111" stroke-width="1.0" fill="none"/>
<path d="M221.93,19.10v1.30M233.43,19.10v1.30M244.93,19.10v1.30M256.43,19.10v1.30M267.93,19.10v1.30M279.43,19.10v1.30M290.93,19.10v1.30M302.43,19.10v1.30M313.93,19.10v1.30M325.43,19.10v1.30M336.93,19.10v1.30M348.43,19.10v1.30M359.93,19.10v1.30M371.43,19.10v1.30M382.93,19.10v1.30M394.43,19.10v1.30M405.93,19.10v1.30M417.43,19.10v1.30M428.93,19.10v1.30M440.43,19.10v1.30M451.93,19.10v1.30M463.43,19.10v1.30M474.93,19.10v1.30M486.43,19.10v1.30M497.93,19.10v1.30M509.43,19.10v1.30" stroke="#111" stroke-width="0.9" fill="none"/>
<path d="M221.93,19.10v2.30M279.43,19.10v2.30M336.93,19.10v2.30M394.43,19.10v2.30M451.93,19.10v2.30M509.43,19.10v2.30" stroke="#111" stroke-width="1.0" fill="none"/>
<path d="M216.43,137.50h2.00M216.43,131.38h2.00M216.43,125.25h2.00M216.43,119.12h2.00M216.43,113.00h2.00M216.43,106.88h2.00M216.43,100.75h2.00M216.43,94.62h2.00M216.43,88.50h2.00M216.43,82.38h2.00M216.43,76.25h2.00M216.43,70.12h2.00M216.43,64.00h2.00M216.43,57.88h2.00M216.43,51.75h2.00M216.43,45.62h2.00M216.43,39.50h2.00M216.43,33.38h2.00M216.43,27.25h2.00M216.43,21.12h2.00" stroke="#111" stroke-width="0.9" fill="none"/>
<path d="M216.43,137.50h3.43M216.43,113.00h3.43M216.43,88.50h3.43M216.43,64.00h3.43M216.43,39.50h3.43" stroke="#111" stroke-width="1.0" fill="none"/>
<path d="M515.43,137.50h-2.00M515.43,131.38h-2.00M515.43,125.25h-2.00M515.43,119.12h-2.00M515.43,113.00h-2.00M515.43,106.88h-2.00M515.43,100.75h-2.00M515.43,94.62h-2.00M515.43,88.50h-2.00M515.43,82.38h-2.00M515.43,76.25h-2.00M515.43,70.12h-2.00M515.43,64.00h-2.00M515.43,57.88h-2.00M515.43,51.75h-2.00M515.43,45.62h-2.00M515.43,39.50h-2.00M515.43,33.38h-2.00M515.43,27.25h-2.00M515.43,21.12h-2.00" stroke="#111" stroke-width="0.9" fill="none"/>
<path d="M515.43,137.50h-3.43M515.43,113.00h-3.43M515.43,88.50h-3.43M515.43,64.00h-3.43M515.43,39.50h-3.43" stroke="#111" stroke-width="1.0" fill="none"/>
</g>
<text transform="translate(721.91,72.23) scale(1.1328,1)" font-family='"Liberation Sans", sans-serif' font-size="27.32" fill="#000"  >.06</text>
<text transform="translate(721.89,120.13) scale(1.1419,1)" font-family='"Liberation Sans", sans-serif' font-size="27.32" fill="#000"  >.02</text>
<text transform="translate(791.60,144.20) rotate(-90) scale(1.0992,1)" font-family='"Liberation Sans", sans-serif' font-size="26.20" fill="#000" >Linewidth</text>
<text transform="translate(824.20,117.56) rotate(-90) scale(1.1223,1)" font-family='"Liberation Sans", sans-serif' font-size="26.20" fill="#000" >(kHz)</text>
<text transform="translate(260.12,20.60) scale(1.2044,1)" font-family='"Liberation Sans", sans-serif' font-size="27.40" fill="#000"  >(d)</text>
<clipPath id="ce"><rect x="216.43" y="147" width="298.57" height="119"/></clipPath>
<path d="M309.2,208H697" stroke="#e2e2e2" stroke-width="1.6"/>
<g transform="scale(1.4,1)">
<path d="M221.00,210.80 L221.36,210.80 L221.72,210.81 L222.07,210.81 L222.43,210.82 L222.79,210.82 L223.15,210.83 L223.50,210.83 L223.86,210.84 L224.22,210.84 L224.58,210.85 L224.94,210.85 L225.29,210.86 L225.65,210.86 L226.01,210.87 L226.37,210.87 L226.72,210.88 L227.08,210.88 L227.44,210.89 L227.80,210.89 L228.16,210.90 L228.51,210.90 L228.87,210.91 L229.23,210.91 L229.59,210.92 L229.94,210.92 L230.30,210.93 L230.66,210.93 L231.02,210.94 L231.37,210.94 L231.73,210.95 L232.09,210.95 L232.45,210.96 L232.81,210.96 L233.16,210.97 L233.52,210.97 L233.88,210.98 L234.24,210.98 L234.59,210.99 L234.95,210.99 L235.31,211.00 L235.67,211.00 L236.03,211.01 L236.38,211.02 L236.74,211.02 L237.10,211.03 L237.46,211.03 L237.81,211.04 L238.17,211.04 L238.53,211.05 L238.89,211.05 L239.25,211.06 L239.60,211.06 L239.96,211.07 L240.32,211.08 L240.68,211.08 L241.03,211.09 L241.39,211.09 L241.75,211.10 L242.11,211.10 L242.47,211.11 L242.82,211.12 L243.18,211.12 L243.54,211.13 L243.90,211.13 L244.25,211.14 L244.61,211.15 L244.97,211.15 L245.33,211.16 L245.69,211.16 L246.04,211.17 L246.40,211.18 L246.76,211.18 L247.12,211.19 L247.47,211.19 L247.83,211.20 L248.19,211.21 L248.55,211.21 L248.90,211.22 L249.26,211.22 L249.62,211.23 L249.98,211.24 L250.34,211.24 L250.69,211.25 L251.05,211.26 L251.41,211.26 L251.77,211.27 L252.12,211.27 L252.48,211.28 L252.84,211.29 L253.20,211.29 L253.56,211.30 L253.91,211.31 L254.27,211.31 L254.63,211.32 L254.99,211.33 L255.34,211.33 L255.70,211.34 L256.06,211.35 L256.42,211.35 L256.78,211.36 L257.13,211.37 L257.49,211.37 L257.85,211.38 L258.21,211.39 L258.56,211.39 L258.92,211.40 L259.28,211.41 L259.64,211.42 L260.00,211.42 L260.35,211.43 L260.71,211.44 L261.07,211.44 L261.43,211.45 L261.78,211.46 L262.14,211.46 L262.50,211.47 L262.86,211.48 L263.22,211.49 L263.57,211.49 L263.93,211.50 L264.29,211.51 L264.65,211.52 L265.00,211.52 L265.36,211.53 L265.72,211.54 L266.08,211.55 L266.44,211.55 L266.79,211.56 L267.15,211.57 L267.51,211.58 L267.87,211.58 L268.22,211.59 L268.58,211.60 L268.94,211.61 L269.30,211.62 L269.65,211.62 L270.01,211.63 L270.37,211.64 L270.73,211.65 L271.09,211.65 L271.44,211.66 L271.80,211.67 L272.16,211.68 L272.52,211.69 L272.87,211.70 L273.23,211.70 L273.59,211.71 L273.95,211.72 L274.31,211.73 L274.66,211.74 L275.02,211.75 L275.38,211.75 L275.74,211.76 L276.09,211.77 L276.45,211.78 L276.81,211.79 L277.17,211.80 L277.53,211.81 L277.88,211.81 L278.24,211.82 L278.60,211.83 L278.96,211.84 L279.31,211.85 L279.67,211.86 L280.03,211.87 L280.39,211.88 L280.75,211.89 L281.10,211.90 L281.46,211.90 L281.82,211.91 L282.18,211.92 L282.53,211.93 L282.89,211.94 L283.25,211.95 L283.61,211.96 L283.97,211.97 L284.32,211.98 L284.68,211.99 L285.04,212.00 L285.40,212.01 L285.75,212.02 L286.11,212.03 L286.47,212.04 L286.83,212.05 L287.18,212.06 L287.54,212.07 L287.90,212.08 L288.26,212.09 L288.62,212.10 L288.97,212.11 L289.33,212.12 L289.69,212.13 L290.05,212.14 L290.40,212.15 L290.76,212.16 L291.12,212.17 L291.48,212.18 L291.84,212.19 L292.19,212.20 L292.55,212.21 L292.91,212.23 L293.27,212.24 L293.62,212.25 L293.98,212.26 L294.34,212.27 L294.70,212.28 L295.06,212.29 L295.41,212.30 L295.77,212.31 L296.13,212.33 L296.49,212.34 L296.84,212.35 L297.20,212.36 L297.56,212.37 L297.92,212.38 L298.28,212.40 L298.63,212.41 L298.99,212.42 L299.35,212.43 L299.71,212.44 L300.06,212.46 L300.42,212.47 L300.78,212.48 L301.14,212.49 L301.50,212.50 L301.85,212.52 L302.21,212.53 L302.57,212.54 L302.93,212.56 L303.28,212.57 L303.64,212.58 L304.00,212.59 L304.36,212.61 L304.71,212.62 L305.07,212.63 L305.43,212.65 L305.79,212.66 L306.15,212.67 L306.50,212.69 L306.86,212.70 L307.22,212.71 L307.58,212.73 L307.93,212.74 L308.29,212.76 L308.65,212.77 L309.01,212.78 L309.37,212.80 L309.72,212.81 L310.08,212.83 L310.44,212.84 L310.80,212.86 L311.15,212.87 L311.51,212.88 L311.87,212.90 L312.23,212.91 L312.59,212.93 L312.94,212.94 L313.30,212.96 L313.66,212.97 L314.02,212.99 L314.37,213.01 L314.73,213.02 L315.09,213.04 L315.45,213.05 L315.81,213.07 L316.16,213.09 L316.52,213.10 L316.88,213.12 L317.24,213.13 L317.59,213.15 L317.95,213.17 L318.31,213.18 L318.67,213.20 L319.03,213.22 L319.38,213.23 L319.74,213.25 L320.10,213.27 L320.46,213.29 L320.81,213.30 L321.17,213.32 L321.53,213.34 L321.89,213.36 L322.24,213.38 L322.60,213.39 L322.96,213.41 L323.32,213.43 L323.68,213.45 L324.03,213.47 L324.39,213.49 L324.75,213.51 L325.11,213.53 L325.46,213.54 L325.82,213.56 L326.18,213.58 L326.54,213.60 L326.90,213.62 L327.25,213.64 L327.61,213.66 L327.97,213.68 L328.33,213.70 L328.68,213.73 L329.04,213.75 L329.40,213.77 L329.76,213.79 L330.12,213.81 L330.47,213.83 L330.83,213.85 L331.19,213.88 L331.55,213.90 L331.90,213.92 L332.26,213.94 L332.62,213.96 L332.98,213.99 L333.34,214.01 L333.69,214.03 L334.05,214.06 L334.41,214.08 L334.77,214.10 L335.12,214.13 L335.48,214.15 L335.84,214.18 L336.20,214.20 L336.56,214.23 L336.91,214.25 L337.27,214.28 L337.63,214.30 L337.99,214.33 L338.34,214.36 L338.70,214.38 L339.06,214.41 L339.42,214.43 L339.77,214.46 L340.13,214.49 L340.49,214.52 L340.85,214.54 L341.21,214.57 L341.56,214.60 L341.92,214.63 L342.28,214.66 L342.64,214.69 L342.99,214.72 L343.35,214.75 L343.71,214.78 L344.07,214.81 L344.43,214.84 L344.78,214.87 L345.14,214.90 L345.50,214.93 L345.86,214.96 L346.21,215.00 L346.57,215.03 L346.93,215.06 L347.29,215.09 L347.65,215.13 L348.00,215.16 L348.36,215.20 L348.72,215.23 L349.08,215.27 L349.43,215.30 L349.79,215.34 L350.15,215.37 L350.51,215.41 L350.87,215.45 L351.22,215.49 L351.58,215.52 L351.94,215.56 L352.30,215.60 L352.65,215.64 L353.01,215.68 L353.37,215.72 L353.73,215.76 L354.09,215.80 L354.44,215.85 L354.80,215.89 L355.16,215.93 L355.52,215.98 L355.87,216.02 L356.23,216.06 L356.59,216.11 L356.95,216.16 L357.31,216.20 L357.66,216.25 L358.02,216.30 L358.38,216.35 L358.74,216.39 L359.09,216.44 L359.45,216.50 L359.81,216.55 L360.17,216.60 L360.52,216.65 L360.88,216.70 L361.24,216.76 L361.60,216.81 L361.96,216.87 L362.31,216.93 L362.67,216.98 L363.03,217.04 L363.39,217.10 L363.74,217.16 L364.10,217.23 L364.46,217.29 L364.82,217.35 L365.18,217.42 L365.53,217.48 L365.89,217.55 L366.25,217.62 L366.61,217.69 L366.96,217.76 L367.32,217.83 L367.68,217.90 L368.04,217.98 L368.40,218.05 L368.75,218.13 L369.11,218.21 L369.47,218.29 L369.83,218.37 L370.18,218.46 L370.54,218.54 L370.90,218.63 L371.26,218.72 L371.62,218.81 L371.97,218.91 L372.33,219.00 L372.69,219.10 L373.05,219.20 L373.40,219.31 L373.76,219.41 L374.12,219.52 L374.48,219.63 L374.84,219.74 L375.19,219.86 L375.55,219.98 L375.91,220.11 L376.27,220.23 L376.62,220.36 L376.98,220.50 L377.34,220.64 L377.70,220.78 L378.05,220.93 L378.41,221.08 L378.77,221.24 L379.13,221.41 L379.49,221.58 L379.84,221.75 L380.20,221.94 L380.56,222.13 L380.92,222.33 L381.27,222.54 L381.63,222.76 L381.99,222.98 L382.35,223.22 L382.71,223.48 L383.06,223.74 L383.42,224.02 L383.78,224.32 L384.14,224.64 L384.49,224.98 L384.85,225.34 L385.21,225.73 L385.57,226.15 L385.93,226.62 L386.28,227.12 L386.64,227.69 L387.00,228.32 L387.36,229.04 L387.71,229.87 L387.71,229.87 L387.79,230.05 L387.86,230.24 L387.93,230.44 L388.00,230.64 L388.07,230.85 L388.14,231.07 L388.21,231.30 L388.29,231.55 L388.36,231.80 L388.43,232.06 L388.50,232.34 L388.57,232.64 L388.64,232.95 L388.71,233.28 L388.79,233.63 L388.86,234.00 L388.93,234.41 L389.00,234.84 L389.07,235.32 L389.14,235.84 L389.21,236.42 L389.21,254.60 L390.50,254.60 L390.50,236.35 L390.57,235.77 L390.64,235.24 L390.71,234.76 L390.79,234.32 L390.86,233.91 L390.93,233.52 L391.00,233.16 L391.07,232.83 L391.14,232.51 L391.21,232.21 L391.29,231.92 L391.36,231.65 L391.43,231.39 L391.50,231.14 L391.57,230.91 L391.64,230.68 L391.71,230.46 L391.79,230.25 L391.86,230.04 L391.93,229.85 L392.00,229.66 L392.00,229.66 L392.36,228.79 L392.72,228.04 L393.07,227.37 L393.43,226.77 L393.79,226.23 L394.15,225.73 L394.51,225.27 L394.86,224.84 L395.22,224.45 L395.58,224.07 L395.94,223.72 L396.30,223.39 L396.66,223.07 L397.01,222.77 L397.37,222.48 L397.73,222.21 L398.09,221.94 L398.45,221.69 L398.80,221.45 L399.16,221.21 L399.52,220.98 L399.88,220.76 L400.24,220.55 L400.59,220.35 L400.95,220.15 L401.31,219.95 L401.67,219.76 L402.03,219.58 L402.38,219.40 L402.74,219.22 L403.10,219.05 L403.46,218.89 L403.82,218.72 L404.18,218.57 L404.53,218.41 L404.89,218.26 L405.25,218.11 L405.61,217.96 L405.97,217.82 L406.32,217.67 L406.68,217.53 L407.04,217.40 L407.40,217.26 L407.76,217.13 L408.11,217.00 L408.47,216.87 L408.83,216.75 L409.19,216.62 L409.55,216.50 L409.90,216.38 L410.26,216.26 L410.62,216.15 L410.98,216.03 L411.34,215.92 L411.70,215.80 L412.05,215.69 L412.41,215.58 L412.77,215.47 L413.13,215.37 L413.49,215.26 L413.84,215.15 L414.20,215.05 L414.56,214.95 L414.92,214.85 L415.28,214.75 L415.63,214.65 L415.99,214.55 L416.35,214.45 L416.71,214.35 L417.07,214.26 L417.42,214.16 L417.78,214.07 L418.14,213.97 L418.50,213.88 L418.86,213.79 L419.21,213.70 L419.57,213.61 L419.93,213.52 L420.29,213.43 L420.65,213.34 L421.01,213.25 L421.36,213.16 L421.72,213.08 L422.08,212.99 L422.44,212.91 L422.80,212.82 L423.15,212.74 L423.51,212.65 L423.87,212.57 L424.23,212.49 L424.59,212.40 L424.94,212.32 L425.30,212.24 L425.66,212.16 L426.02,212.08 L426.38,212.00 L426.73,211.92 L427.09,211.84 L427.45,211.76 L427.81,211.68 L428.17,211.60 L428.53,211.53 L428.88,211.45 L429.24,211.37 L429.60,211.29 L429.96,211.22 L430.32,211.14 L430.67,211.06 L431.03,210.99 L431.39,210.91 L431.75,210.84 L432.11,210.76 L432.46,210.69 L432.82,210.61 L433.18,210.54 L433.54,210.47 L433.90,210.39 L434.25,210.32 L434.61,210.24 L434.97,210.17 L435.33,210.10 L435.69,210.03 L436.05,209.95 L436.40,209.88 L436.76,209.81 L437.12,209.74 L437.48,209.66 L437.84,209.59 L438.19,209.52 L438.55,209.45 L438.91,209.38 L439.27,209.31 L439.63,209.24 L439.98,209.16 L440.34,209.09 L440.70,209.02 L441.06,208.95 L441.42,208.88 L441.77,208.81 L442.13,208.74 L442.49,208.67 L442.85,208.60 L443.21,208.53 L443.57,208.46 L443.92,208.39 L444.28,208.32 L444.64,208.25 L445.00,208.18 L445.36,208.11 L445.71,208.04 L446.07,207.96 L446.43,207.89 L446.79,207.82 L447.15,207.75 L447.50,207.68 L447.86,207.61 L448.22,207.54 L448.58,207.47 L448.94,207.40 L449.29,207.33 L449.65,207.26 L450.01,207.19 L450.37,207.12 L450.73,207.05 L451.09,206.98 L451.44,206.91 L451.80,206.84 L452.16,206.76 L452.52,206.69 L452.88,206.62 L453.23,206.55 L453.59,206.48 L453.95,206.41 L454.31,206.34 L454.67,206.26 L455.02,206.19 L455.38,206.12 L455.74,206.05 L456.10,205.97 L456.46,205.90 L456.81,205.83 L457.17,205.76 L457.53,205.68 L457.89,205.61 L458.25,205.53 L458.61,205.46 L458.96,205.39 L459.32,205.31 L459.68,205.24 L460.04,205.16 L460.40,205.09 L460.75,205.01 L461.11,204.94 L461.47,204.86 L461.83,204.78 L462.19,204.71 L462.54,204.63 L462.90,204.55 L463.26,204.47 L463.62,204.40 L463.98,204.32 L464.33,204.24 L464.69,204.16 L465.05,204.08 L465.41,204.00 L465.77,203.92 L466.13,203.84 L466.48,203.76 L466.84,203.68 L467.20,203.60 L467.56,203.51 L467.92,203.43 L468.27,203.35 L468.63,203.26 L468.99,203.18 L469.35,203.09 L469.71,203.01 L470.06,202.92 L470.42,202.84 L470.78,202.75 L471.14,202.66 L471.50,202.57 L471.85,202.48 L472.21,202.39 L472.57,202.30 L472.93,202.21 L473.29,202.12 L473.64,202.03 L474.00,201.93 L474.36,201.84 L474.72,201.74 L475.08,201.65 L475.44,201.55 L475.79,201.45 L476.15,201.35 L476.51,201.25 L476.87,201.15 L477.23,201.05 L477.58,200.95 L477.94,200.85 L478.30,200.74 L478.66,200.63 L479.02,200.53 L479.37,200.42 L479.73,200.31 L480.09,200.20 L480.45,200.08 L480.81,199.97 L481.16,199.85 L481.52,199.74 L481.88,199.62 L482.24,199.50 L482.60,199.38 L482.96,199.25 L483.31,199.13 L483.67,199.00 L484.03,198.87 L484.39,198.74 L484.75,198.60 L485.10,198.47 L485.46,198.33 L485.82,198.18 L486.18,198.04 L486.54,197.89 L486.89,197.74 L487.25,197.59 L487.61,197.43 L487.97,197.28 L488.33,197.11 L488.68,196.95 L489.04,196.78 L489.40,196.60 L489.76,196.42 L490.12,196.24 L490.48,196.05 L490.83,195.85 L491.19,195.65 L491.55,195.45 L491.91,195.24 L492.27,195.02 L492.62,194.79 L492.98,194.55 L493.34,194.31 L493.70,194.06 L494.06,193.79 L494.41,193.52 L494.77,193.23 L495.13,192.93 L495.49,192.61 L495.85,192.28 L496.20,191.93 L496.56,191.55 L496.92,191.16 L497.28,190.73 L497.64,190.27 L498.00,189.77 L498.35,189.23 L498.71,188.63 L499.07,187.96 L499.43,187.21 L499.79,186.34 L499.79,186.34 L499.86,186.15 L499.93,185.95 L500.00,185.74 L500.08,185.52 L500.15,185.30 L500.22,185.07 L500.30,184.82 L500.37,184.57 L500.44,184.30 L500.51,184.02 L500.59,183.73 L500.66,183.42 L500.73,183.09 L501.93,183.80 L503.12,182.97 L503.20,183.29 L503.27,183.59 L503.34,183.88 L503.42,184.15 L503.49,184.41 L503.56,184.66 L503.63,184.90 L503.71,185.13 L503.78,185.34 L503.85,185.55 L503.93,185.75 L504.00,185.95 L504.07,186.13 L504.07,186.13 L504.45,187.00 L504.82,187.74 L505.19,188.39 L505.57,188.97 L505.94,189.49 L506.32,189.97 L506.69,190.40 L507.06,190.80 L507.44,191.17 L507.81,191.51 L508.18,191.83 L508.56,192.13 L508.93,192.42 L509.31,192.69 L509.68,192.94 L510.05,193.18 L510.43,193.41" fill="none" stroke="#5E81B5" stroke-width="2.45" stroke-linejoin="round" clip-path="url(#ce)" stroke-linejoin="miter"/>
<path d="M221.00,212.99 L221.36,213.00 L221.72,213.01 L222.07,213.02 L222.43,213.03 L222.79,213.04 L223.15,213.05 L223.50,213.07 L223.86,213.08 L224.22,213.09 L224.58,213.10 L224.93,213.11 L225.29,213.12 L225.65,213.13 L226.01,213.14 L226.36,213.15 L226.72,213.16 L227.08,213.17 L227.44,213.19 L227.79,213.20 L228.15,213.21 L228.51,213.22 L228.87,213.23 L229.22,213.24 L229.58,213.25 L229.94,213.27 L230.30,213.28 L230.66,213.29 L231.01,213.30 L231.37,213.31 L231.73,213.32 L232.09,213.34 L232.44,213.35 L232.80,213.36 L233.16,213.37 L233.52,213.38 L233.87,213.40 L234.23,213.41 L234.59,213.42 L234.95,213.43 L235.30,213.45 L235.66,213.46 L236.02,213.47 L236.38,213.48 L236.73,213.50 L237.09,213.51 L237.45,213.52 L237.81,213.53 L238.16,213.55 L238.52,213.56 L238.88,213.57 L239.24,213.59 L239.60,213.60 L239.95,213.61 L240.31,213.63 L240.67,213.64 L241.03,213.65 L241.38,213.67 L241.74,213.68 L242.10,213.69 L242.46,213.71 L242.81,213.72 L243.17,213.74 L243.53,213.75 L243.89,213.76 L244.24,213.78 L244.60,213.79 L244.96,213.81 L245.32,213.82 L245.67,213.84 L246.03,213.85 L246.39,213.87 L246.75,213.88 L247.10,213.89 L247.46,213.91 L247.82,213.92 L248.18,213.94 L248.54,213.95 L248.89,213.97 L249.25,213.99 L249.61,214.00 L249.97,214.02 L250.32,214.03 L250.68,214.05 L251.04,214.06 L251.40,214.08 L251.75,214.09 L252.11,214.11 L252.47,214.13 L252.83,214.14 L253.18,214.16 L253.54,214.18 L253.90,214.19 L254.26,214.21 L254.61,214.23 L254.97,214.24 L255.33,214.26 L255.69,214.28 L256.05,214.29 L256.40,214.31 L256.76,214.33 L257.12,214.34 L257.48,214.36 L257.83,214.38 L258.19,214.40 L258.55,214.42 L258.91,214.43 L259.26,214.45 L259.62,214.47 L259.98,214.49 L260.34,214.51 L260.69,214.52 L261.05,214.54 L261.41,214.56 L261.77,214.58 L262.12,214.60 L262.48,214.62 L262.84,214.64 L263.20,214.66 L263.55,214.68 L263.91,214.70 L264.27,214.72 L264.63,214.74 L264.99,214.76 L265.34,214.78 L265.70,214.80 L266.06,214.82 L266.42,214.84 L266.77,214.86 L267.13,214.88 L267.49,214.90 L267.85,214.92 L268.20,214.94 L268.56,214.96 L268.92,214.98 L269.28,215.01 L269.63,215.03 L269.99,215.05 L270.35,215.07 L270.71,215.09 L271.06,215.12 L271.42,215.14 L271.78,215.16 L272.14,215.19 L272.49,215.21 L272.85,215.23 L273.21,215.26 L273.57,215.28 L273.93,215.30 L274.28,215.33 L274.64,215.35 L275.00,215.38 L275.36,215.40 L275.71,215.43 L276.07,215.45 L276.43,215.48 L276.79,215.50 L277.14,215.53 L277.50,215.55 L277.86,215.58 L278.22,215.60 L278.57,215.63 L278.93,215.66 L279.29,215.68 L279.65,215.71 L280.00,215.74 L280.36,215.77 L280.72,215.79 L281.08,215.82 L281.43,215.85 L281.79,215.88 L282.15,215.91 L282.51,215.93 L282.87,215.96 L283.22,215.99 L283.58,216.02 L283.94,216.05 L284.30,216.08 L284.65,216.11 L285.01,216.14 L285.37,216.17 L285.73,216.21 L286.08,216.24 L286.44,216.27 L286.80,216.30 L287.16,216.33 L287.51,216.37 L287.87,216.40 L288.23,216.43 L288.59,216.47 L288.94,216.50 L289.30,216.53 L289.66,216.57 L290.02,216.60 L290.37,216.64 L290.73,216.67 L291.09,216.71 L291.45,216.75 L291.81,216.78 L292.16,216.82 L292.52,216.86 L292.88,216.90 L293.24,216.93 L293.59,216.97 L293.95,217.01 L294.31,217.05 L294.67,217.09 L295.02,217.13 L295.38,217.17 L295.74,217.21 L296.10,217.25 L296.45,217.30 L296.81,217.34 L297.17,217.38 L297.53,217.43 L297.88,217.47 L298.24,217.51 L298.60,217.56 L298.96,217.60 L299.31,217.65 L299.67,217.70 L300.03,217.75 L300.39,217.79 L300.75,217.84 L301.10,217.89 L301.46,217.94 L301.82,217.99 L302.18,218.04 L302.53,218.09 L302.89,218.15 L303.25,218.20 L303.61,218.25 L303.96,218.31 L304.32,218.36 L304.68,218.42 L305.04,218.47 L305.39,218.53 L305.75,218.59 L306.11,218.65 L306.47,218.71 L306.82,218.77 L307.18,218.83 L307.54,218.89 L307.90,218.96 L308.25,219.02 L308.61,219.09 L308.97,219.16 L309.33,219.22 L309.69,219.29 L310.04,219.36 L310.40,219.43 L310.76,219.51 L311.12,219.58 L311.47,219.65 L311.83,219.73 L312.19,219.81 L312.55,219.89 L312.90,219.97 L313.26,220.05 L313.62,220.13 L313.98,220.22 L314.33,220.31 L314.69,220.39 L315.05,220.48 L315.41,220.58 L315.76,220.67 L316.12,220.77 L316.48,220.87 L316.84,220.97 L317.19,221.07 L317.55,221.17 L317.91,221.28 L318.27,221.39 L318.63,221.51 L318.98,221.62 L319.34,221.74 L319.70,221.86 L320.06,221.99 L320.41,222.11 L320.77,222.25 L321.13,222.38 L321.49,222.52 L321.84,222.67 L322.20,222.82 L322.56,222.97 L322.92,223.13 L323.27,223.29 L323.63,223.46 L323.99,223.64 L324.35,223.82 L324.70,224.01 L325.06,224.20 L325.42,224.41 L325.78,224.62 L326.14,224.84 L326.49,225.08 L326.85,225.32 L327.21,225.58 L327.57,225.85 L327.92,226.14 L328.28,226.44 L328.64,226.76 L329.00,227.11 L329.35,227.47 L329.71,227.87 L330.07,228.30 L330.43,228.77 L330.78,229.28 L331.14,229.85 L331.50,230.48 L331.86,231.21 L332.21,232.05 L332.21,232.05 L332.29,232.23 L332.36,232.42 L332.43,232.62 L332.50,232.82 L332.57,233.04 L332.64,233.26 L332.71,233.49 L332.79,233.73 L332.86,233.99 L332.93,234.25 L333.00,234.53 L333.07,234.83 L333.14,235.14 L333.21,235.47 L333.29,235.82 L333.36,236.20 L333.43,236.61 L333.50,237.04 L333.57,237.52 L333.64,238.04 L333.71,238.62 L333.71,259.50 L335.00,259.50 L335.00,238.58 L335.07,237.99 L335.14,237.47 L335.21,236.99 L335.29,236.54 L335.36,236.13 L335.43,235.75 L335.50,235.40 L335.57,235.06 L335.64,234.74 L335.71,234.44 L335.79,234.16 L335.86,233.89 L335.93,233.63 L336.00,233.38 L336.07,233.15 L336.14,232.92 L336.21,232.70 L336.29,232.49 L336.36,232.29 L336.43,232.09 L336.50,231.91 L336.50,231.91 L336.86,231.05 L337.21,230.30 L337.57,229.64 L337.93,229.05 L338.29,228.51 L338.64,228.02 L339.00,227.57 L339.36,227.15 L339.72,226.76 L340.07,226.39 L340.43,226.04 L340.79,225.72 L341.14,225.41 L341.50,225.11 L341.86,224.83 L342.22,224.56 L342.57,224.31 L342.93,224.06 L343.29,223.82 L343.65,223.60 L344.00,223.38 L344.36,223.16 L344.72,222.96 L345.08,222.76 L345.43,222.57 L345.79,222.38 L346.15,222.20 L346.50,222.02 L346.86,221.85 L347.22,221.68 L347.58,221.52 L347.93,221.36 L348.29,221.20 L348.65,221.05 L349.01,220.90 L349.36,220.76 L349.72,220.61 L350.08,220.47 L350.43,220.34 L350.79,220.20 L351.15,220.07 L351.51,219.94 L351.86,219.82 L352.22,219.69 L352.58,219.57 L352.94,219.45 L353.29,219.33 L353.65,219.22 L354.01,219.10 L354.36,218.99 L354.72,218.88 L355.08,218.77 L355.44,218.66 L355.79,218.56 L356.15,218.45 L356.51,218.35 L356.87,218.25 L357.22,218.15 L357.58,218.05 L357.94,217.95 L358.30,217.85 L358.65,217.76 L359.01,217.67 L359.37,217.57 L359.72,217.48 L360.08,217.39 L360.44,217.30 L360.80,217.21 L361.15,217.12 L361.51,217.04 L361.87,216.95 L362.23,216.87 L362.58,216.78 L362.94,216.70 L363.30,216.62 L363.65,216.53 L364.01,216.45 L364.37,216.37 L364.73,216.29 L365.08,216.22 L365.44,216.14 L365.80,216.06 L366.16,215.98 L366.51,215.91 L366.87,215.83 L367.23,215.76 L367.59,215.68 L367.94,215.61 L368.30,215.54 L368.66,215.46 L369.01,215.39 L369.37,215.32 L369.73,215.25 L370.09,215.18 L370.44,215.11 L370.80,215.04 L371.16,214.97 L371.52,214.91 L371.87,214.84 L372.23,214.77 L372.59,214.70 L372.94,214.64 L373.30,214.57 L373.66,214.51 L374.02,214.44 L374.37,214.38 L374.73,214.31 L375.09,214.25 L375.45,214.18 L375.80,214.12 L376.16,214.06 L376.52,214.00 L376.87,213.93 L377.23,213.87 L377.59,213.81 L377.95,213.75 L378.30,213.69 L378.66,213.63 L379.02,213.57 L379.38,213.51 L379.73,213.45 L380.09,213.39 L380.45,213.33 L380.81,213.27 L381.16,213.21 L381.52,213.16 L381.88,213.10 L382.23,213.04 L382.59,212.98 L382.95,212.93 L383.31,212.87 L383.66,212.81 L384.02,212.76 L384.38,212.70 L384.74,212.64 L385.09,212.59 L385.45,212.53 L385.81,212.48 L386.16,212.42 L386.52,212.37 L386.88,212.31 L387.24,212.26 L387.59,212.20 L387.95,212.15 L388.31,212.10 L388.67,212.04 L389.02,211.99 L389.38,211.94 L389.74,211.88 L390.09,211.83 L390.45,211.78 L390.81,211.72 L391.17,211.67 L391.52,211.62 L391.88,211.57 L392.24,211.52 L392.60,211.46 L392.95,211.41 L393.31,211.36 L393.67,211.31 L394.03,211.26 L394.38,211.21 L394.74,211.16 L395.10,211.11 L395.45,211.05 L395.81,211.00 L396.17,210.95 L396.53,210.90 L396.88,210.85 L397.24,210.80 L397.60,210.75 L397.96,210.70 L398.31,210.65 L398.67,210.60 L399.03,210.55 L399.38,210.51 L399.74,210.46 L400.10,210.41 L400.46,210.36 L400.81,210.31 L401.17,210.26 L401.53,210.21 L401.89,210.16 L402.24,210.11 L402.60,210.06 L402.96,210.02 L403.31,209.97 L403.67,209.92 L404.03,209.87 L404.39,209.82 L404.74,209.77 L405.10,209.73 L405.46,209.68 L405.82,209.63 L406.17,209.58 L406.53,209.53 L406.89,209.49 L407.25,209.44 L407.60,209.39 L407.96,209.34 L408.32,209.30 L408.67,209.25 L409.03,209.20 L409.39,209.15 L409.75,209.11 L410.10,209.06 L410.46,209.01 L410.82,208.96 L411.18,208.92 L411.53,208.87 L411.89,208.82 L412.25,208.78 L412.60,208.73 L412.96,208.68 L413.32,208.63 L413.68,208.59 L414.03,208.54 L414.39,208.49 L414.75,208.45 L415.11,208.40 L415.46,208.35 L415.82,208.30 L416.18,208.26 L416.54,208.21 L416.89,208.16 L417.25,208.12 L417.61,208.07 L417.96,208.02 L418.32,207.98 L418.68,207.93 L419.04,207.88 L419.39,207.84 L419.75,207.79 L420.11,207.74 L420.47,207.70 L420.82,207.65 L421.18,207.60 L421.54,207.55 L421.89,207.51 L422.25,207.46 L422.61,207.41 L422.97,207.37 L423.32,207.32 L423.68,207.27 L424.04,207.22 L424.40,207.18 L424.75,207.13 L425.11,207.08 L425.47,207.04 L425.82,206.99 L426.18,206.94 L426.54,206.89 L426.90,206.85 L427.25,206.80 L427.61,206.75 L427.97,206.70 L428.33,206.66 L428.68,206.61 L429.04,206.56 L429.40,206.51 L429.76,206.47 L430.11,206.42 L430.47,206.37 L430.83,206.32 L431.18,206.27 L431.54,206.23 L431.90,206.18 L432.26,206.13 L432.61,206.08 L432.97,206.03 L433.33,205.98 L433.69,205.94 L434.04,205.89 L434.40,205.84 L434.76,205.79 L435.11,205.74 L435.47,205.69 L435.83,205.64 L436.19,205.59 L436.54,205.54 L436.90,205.49 L437.26,205.45 L437.62,205.40 L437.97,205.35 L438.33,205.30 L438.69,205.25 L439.04,205.20 L439.40,205.15 L439.76,205.10 L440.12,205.05 L440.47,205.00 L440.83,204.95 L441.19,204.89 L441.55,204.84 L441.90,204.79 L442.26,204.74 L442.62,204.69 L442.98,204.64 L443.33,204.59 L443.69,204.54 L444.05,204.48 L444.40,204.43 L444.76,204.38 L445.12,204.33 L445.48,204.28 L445.83,204.22 L446.19,204.17 L446.55,204.12 L446.91,204.06 L447.26,204.01 L447.62,203.96 L447.98,203.90 L448.33,203.85 L448.69,203.80 L449.05,203.74 L449.41,203.69 L449.76,203.63 L450.12,203.58 L450.48,203.52 L450.84,203.47 L451.19,203.41 L451.55,203.36 L451.91,203.30 L452.26,203.24 L452.62,203.19 L452.98,203.13 L453.34,203.07 L453.69,203.02 L454.05,202.96 L454.41,202.90 L454.77,202.84 L455.12,202.79 L455.48,202.73 L455.84,202.67 L456.20,202.61 L456.55,202.55 L456.91,202.49 L457.27,202.43 L457.62,202.37 L457.98,202.31 L458.34,202.25 L458.70,202.19 L459.05,202.13 L459.41,202.07 L459.77,202.00 L460.13,201.94 L460.48,201.88 L460.84,201.82 L461.20,201.75 L461.55,201.69 L461.91,201.62 L462.27,201.56 L462.63,201.49 L462.98,201.43 L463.34,201.36 L463.70,201.30 L464.06,201.23 L464.41,201.16 L464.77,201.09 L465.13,201.03 L465.48,200.96 L465.84,200.89 L466.20,200.82 L466.56,200.75 L466.91,200.68 L467.27,200.61 L467.63,200.54 L467.99,200.46 L468.34,200.39 L468.70,200.32 L469.06,200.24 L469.42,200.17 L469.77,200.09 L470.13,200.02 L470.49,199.94 L470.84,199.86 L471.20,199.78 L471.56,199.71 L471.92,199.63 L472.27,199.55 L472.63,199.47 L472.99,199.38 L473.35,199.30 L473.70,199.22 L474.06,199.13 L474.42,199.05 L474.77,198.96 L475.13,198.88 L475.49,198.79 L475.85,198.70 L476.20,198.61 L476.56,198.52 L476.92,198.43 L477.28,198.33 L477.63,198.24 L477.99,198.15 L478.35,198.05 L478.71,197.95 L479.06,197.85 L479.42,197.75 L479.78,197.65 L480.13,197.55 L480.49,197.44 L480.85,197.34 L481.21,197.23 L481.56,197.12 L481.92,197.01 L482.28,196.90 L482.64,196.78 L482.99,196.67 L483.35,196.55 L483.71,196.43 L484.06,196.31 L484.42,196.18 L484.78,196.06 L485.14,195.93 L485.49,195.80 L485.85,195.66 L486.21,195.53 L486.57,195.39 L486.92,195.24 L487.28,195.10 L487.64,194.95 L487.99,194.80 L488.35,194.64 L488.71,194.48 L489.07,194.32 L489.42,194.15 L489.78,193.98 L490.14,193.80 L490.50,193.62 L490.85,193.43 L491.21,193.24 L491.57,193.04 L491.93,192.84 L492.28,192.62 L492.64,192.40 L493.00,192.18 L493.35,191.94 L493.71,191.69 L494.07,191.44 L494.43,191.17 L494.78,190.89 L495.14,190.59 L495.50,190.28 L495.86,189.96 L496.21,189.61 L496.57,189.24 L496.93,188.85 L497.28,188.43 L497.64,187.98 L498.00,187.49 L498.36,186.95 L498.71,186.36 L499.07,185.70 L499.43,184.95 L499.79,184.09 L499.79,184.09 L499.86,183.90 L499.93,183.70 L500.00,183.50 L500.08,183.28 L500.15,183.06 L500.22,182.83 L500.30,182.58 L500.37,182.33 L500.44,182.06 L500.51,181.79 L500.59,181.49 L500.66,181.18 L500.73,180.85 L501.93,182.30 L503.12,180.78 L503.20,181.10 L503.27,181.40 L503.34,181.69 L503.42,181.97 L503.49,182.23 L503.56,182.48 L503.63,182.71 L503.71,182.94 L503.78,183.16 L503.85,183.37 L503.93,183.57 L504.00,183.77 L504.07,183.95 L504.07,183.95 L504.45,184.83 L504.82,185.58 L505.19,186.23 L505.57,186.82 L505.94,187.34 L506.32,187.82 L506.69,188.26 L507.06,188.66 L507.44,189.04 L507.81,189.39 L508.18,189.72 L508.56,190.02 L508.93,190.31 L509.31,190.59 L509.68,190.85 L510.05,191.09 L510.43,191.33" fill="none" stroke="#E19C24" stroke-width="2.45" stroke-linejoin="round" clip-path="url(#ce)" stroke-linejoin="miter"/>
<path d="M221.00,216.77 L221.36,216.79 L221.72,216.82 L222.08,216.85 L222.44,216.88 L222.80,216.91 L223.15,216.94 L223.51,216.96 L223.87,216.99 L224.23,217.02 L224.59,217.05 L224.95,217.08 L225.31,217.11 L225.67,217.14 L226.03,217.17 L226.39,217.20 L226.74,217.24 L227.10,217.27 L227.46,217.30 L227.82,217.33 L228.18,217.36 L228.54,217.40 L228.90,217.43 L229.26,217.46 L229.62,217.49 L229.98,217.53 L230.33,217.56 L230.69,217.60 L231.05,217.63 L231.41,217.67 L231.77,217.70 L232.13,217.74 L232.49,217.77 L232.85,217.81 L233.21,217.85 L233.57,217.88 L233.92,217.92 L234.28,217.96 L234.64,217.99 L235.00,218.03 L235.36,218.07 L235.72,218.11 L236.08,218.15 L236.44,218.19 L236.80,218.23 L237.16,218.27 L237.51,218.31 L237.87,218.35 L238.23,218.39 L238.59,218.44 L238.95,218.48 L239.31,218.52 L239.67,218.57 L240.03,218.61 L240.39,218.66 L240.75,218.70 L241.10,218.75 L241.46,218.79 L241.82,218.84 L242.18,218.89 L242.54,218.93 L242.90,218.98 L243.26,219.03 L243.62,219.08 L243.98,219.13 L244.34,219.18 L244.69,219.23 L245.05,219.28 L245.41,219.34 L245.77,219.39 L246.13,219.44 L246.49,219.50 L246.85,219.55 L247.21,219.61 L247.57,219.66 L247.93,219.72 L248.28,219.78 L248.64,219.84 L249.00,219.90 L249.36,219.96 L249.72,220.02 L250.08,220.08 L250.44,220.15 L250.80,220.21 L251.16,220.28 L251.52,220.34 L251.87,220.41 L252.23,220.48 L252.59,220.55 L252.95,220.62 L253.31,220.69 L253.67,220.76 L254.03,220.83 L254.39,220.91 L254.75,220.98 L255.11,221.06 L255.46,221.14 L255.82,221.22 L256.18,221.30 L256.54,221.38 L256.90,221.47 L257.26,221.55 L257.62,221.64 L257.98,221.73 L258.34,221.82 L258.70,221.92 L259.06,222.01 L259.41,222.11 L259.77,222.21 L260.13,222.31 L260.49,222.41 L260.85,222.51 L261.21,222.62 L261.57,222.73 L261.93,222.84 L262.29,222.96 L262.65,223.08 L263.00,223.20 L263.36,223.32 L263.72,223.45 L264.08,223.58 L264.44,223.72 L264.80,223.86 L265.16,224.00 L265.52,224.15 L265.88,224.30 L266.24,224.45 L266.59,224.61 L266.95,224.78 L267.31,224.95 L267.67,225.13 L268.03,225.32 L268.39,225.51 L268.75,225.71 L269.11,225.91 L269.47,226.13 L269.83,226.36 L270.18,226.59 L270.54,226.84 L270.90,227.10 L271.26,227.37 L271.62,227.66 L271.98,227.97 L272.34,228.30 L272.70,228.64 L273.06,229.01 L273.42,229.41 L273.77,229.85 L274.13,230.32 L274.49,230.83 L274.85,231.41 L275.21,232.05 L275.57,232.78 L275.93,233.62 L275.93,233.62 L276.00,233.81 L276.07,234.00 L276.14,234.20 L276.21,234.40 L276.29,234.62 L276.36,234.84 L276.43,235.07 L276.50,235.31 L276.57,235.57 L276.64,235.83 L276.71,236.11 L276.79,236.41 L276.86,236.72 L276.93,237.05 L277.00,237.41 L277.07,237.79 L277.14,238.19 L277.21,238.63 L277.29,239.11 L277.36,239.63 L277.43,240.21 L277.43,256.30 L278.71,256.30 L278.71,240.17 L278.79,239.59 L278.86,239.07 L278.93,238.59 L279.00,238.15 L279.07,237.74 L279.14,237.35 L279.21,237.00 L279.29,236.66 L279.36,236.35 L279.43,236.05 L279.50,235.76 L279.57,235.49 L279.64,235.24 L279.71,234.99 L279.79,234.75 L279.86,234.53 L279.93,234.31 L280.00,234.10 L280.07,233.90 L280.14,233.70 L280.21,233.52 L280.21,233.52 L280.57,232.66 L280.93,231.91 L281.29,231.26 L281.64,230.67 L282.00,230.13 L282.36,229.65 L282.72,229.20 L283.08,228.78 L283.43,228.39 L283.79,228.03 L284.15,227.68 L284.51,227.36 L284.86,227.05 L285.22,226.76 L285.58,226.49 L285.94,226.22 L286.29,225.97 L286.65,225.72 L287.01,225.49 L287.37,225.27 L287.72,225.05 L288.08,224.84 L288.44,224.64 L288.80,224.44 L289.15,224.25 L289.51,224.07 L289.87,223.89 L290.23,223.72 L290.58,223.55 L290.94,223.38 L291.30,223.22 L291.66,223.07 L292.02,222.91 L292.37,222.77 L292.73,222.62 L293.09,222.48 L293.45,222.34 L293.80,222.20 L294.16,222.07 L294.52,221.94 L294.88,221.81 L295.23,221.69 L295.59,221.56 L295.95,221.44 L296.31,221.32 L296.66,221.21 L297.02,221.09 L297.38,220.98 L297.74,220.87 L298.09,220.76 L298.45,220.66 L298.81,220.55 L299.17,220.45 L299.53,220.34 L299.88,220.24 L300.24,220.14 L300.60,220.05 L300.96,219.95 L301.31,219.85 L301.67,219.76 L302.03,219.67 L302.39,219.58 L302.74,219.49 L303.10,219.40 L303.46,219.31 L303.82,219.22 L304.17,219.14 L304.53,219.05 L304.89,218.97 L305.25,218.89 L305.60,218.80 L305.96,218.72 L306.32,218.64 L306.68,218.56 L307.03,218.49 L307.39,218.41 L307.75,218.33 L308.11,218.25 L308.47,218.18 L308.82,218.11 L309.18,218.03 L309.54,217.96 L309.90,217.89 L310.25,217.81 L310.61,217.74 L310.97,217.67 L311.33,217.60 L311.68,217.53 L312.04,217.47 L312.40,217.40 L312.76,217.33 L313.11,217.26 L313.47,217.20 L313.83,217.13 L314.19,217.07 L314.54,217.00 L314.90,216.94 L315.26,216.87 L315.62,216.81 L315.98,216.75 L316.33,216.69 L316.69,216.62 L317.05,216.56 L317.41,216.50 L317.76,216.44 L318.12,216.38 L318.48,216.32 L318.84,216.26 L319.19,216.20 L319.55,216.14 L319.91,216.09 L320.27,216.03 L320.62,215.97 L320.98,215.92 L321.34,215.86 L321.70,215.80 L322.05,215.75 L322.41,215.69 L322.77,215.64 L323.13,215.58 L323.48,215.53 L323.84,215.47 L324.20,215.42 L324.56,215.36 L324.92,215.31 L325.27,215.26 L325.63,215.21 L325.99,215.15 L326.35,215.10 L326.70,215.05 L327.06,215.00 L327.42,214.95 L327.78,214.90 L328.13,214.85 L328.49,214.79 L328.85,214.74 L329.21,214.69 L329.56,214.64 L329.92,214.60 L330.28,214.55 L330.64,214.50 L330.99,214.45 L331.35,214.40 L331.71,214.35 L332.07,214.30 L332.43,214.26 L332.78,214.21 L333.14,214.16 L333.50,214.11 L333.86,214.07 L334.21,214.02 L334.57,213.97 L334.93,213.93 L335.29,213.88 L335.64,213.83 L336.00,213.79 L336.36,213.74 L336.72,213.70 L337.07,213.65 L337.43,213.61 L337.79,213.56 L338.15,213.52 L338.50,213.47 L338.86,213.43 L339.22,213.38 L339.58,213.34 L339.93,213.29 L340.29,213.25 L340.65,213.21 L341.01,213.16 L341.37,213.12 L341.72,213.08 L342.08,213.03 L342.44,212.99 L342.80,212.95 L343.15,212.91 L343.51,212.86 L343.87,212.82 L344.23,212.78 L344.58,212.74 L344.94,212.69 L345.30,212.65 L345.66,212.61 L346.01,212.57 L346.37,212.53 L346.73,212.49 L347.09,212.44 L347.44,212.40 L347.80,212.36 L348.16,212.32 L348.52,212.28 L348.88,212.24 L349.23,212.20 L349.59,212.16 L349.95,212.12 L350.31,212.08 L350.66,212.04 L351.02,212.00 L351.38,211.96 L351.74,211.92 L352.09,211.88 L352.45,211.84 L352.81,211.80 L353.17,211.76 L353.52,211.72 L353.88,211.68 L354.24,211.64 L354.60,211.60 L354.95,211.56 L355.31,211.52 L355.67,211.49 L356.03,211.45 L356.38,211.41 L356.74,211.37 L357.10,211.33 L357.46,211.29 L357.82,211.25 L358.17,211.22 L358.53,211.18 L358.89,211.14 L359.25,211.10 L359.60,211.06 L359.96,211.03 L360.32,210.99 L360.68,210.95 L361.03,210.91 L361.39,210.88 L361.75,210.84 L362.11,210.80 L362.46,210.76 L362.82,210.73 L363.18,210.69 L363.54,210.65 L363.89,210.61 L364.25,210.58 L364.61,210.54 L364.97,210.50 L365.33,210.47 L365.68,210.43 L366.04,210.39 L366.40,210.35 L366.76,210.32 L367.11,210.28 L367.47,210.24 L367.83,210.21 L368.19,210.17 L368.54,210.14 L368.90,210.10 L369.26,210.06 L369.62,210.03 L369.97,209.99 L370.33,209.95 L370.69,209.92 L371.05,209.88 L371.40,209.84 L371.76,209.81 L372.12,209.77 L372.48,209.74 L372.83,209.70 L373.19,209.66 L373.55,209.63 L373.91,209.59 L374.27,209.56 L374.62,209.52 L374.98,209.49 L375.34,209.45 L375.70,209.41 L376.05,209.38 L376.41,209.34 L376.77,209.31 L377.13,209.27 L377.48,209.24 L377.84,209.20 L378.20,209.16 L378.56,209.13 L378.91,209.09 L379.27,209.06 L379.63,209.02 L379.99,208.99 L380.34,208.95 L380.70,208.92 L381.06,208.88 L381.42,208.85 L381.78,208.81 L382.13,208.77 L382.49,208.74 L382.85,208.70 L383.21,208.67 L383.56,208.63 L383.92,208.60 L384.28,208.56 L384.64,208.53 L384.99,208.49 L385.35,208.46 L385.71,208.42 L386.07,208.39 L386.42,208.35 L386.78,208.32 L387.14,208.28 L387.50,208.25 L387.85,208.21 L388.21,208.18 L388.57,208.14 L388.93,208.11 L389.28,208.07 L389.64,208.04 L390.00,208.00 L390.36,207.96 L390.72,207.93 L391.07,207.89 L391.43,207.86 L391.79,207.82 L392.15,207.79 L392.50,207.75 L392.86,207.72 L393.22,207.68 L393.58,207.65 L393.93,207.61 L394.29,207.58 L394.65,207.54 L395.01,207.51 L395.36,207.47 L395.72,207.44 L396.08,207.40 L396.44,207.37 L396.79,207.33 L397.15,207.30 L397.51,207.26 L397.87,207.23 L398.22,207.19 L398.58,207.15 L398.94,207.12 L399.30,207.08 L399.66,207.05 L400.01,207.01 L400.37,206.98 L400.73,206.94 L401.09,206.91 L401.44,206.87 L401.80,206.84 L402.16,206.80 L402.52,206.76 L402.87,206.73 L403.23,206.69 L403.59,206.66 L403.95,206.62 L404.30,206.59 L404.66,206.55 L405.02,206.51 L405.38,206.48 L405.73,206.44 L406.09,206.41 L406.45,206.37 L406.81,206.34 L407.17,206.30 L407.52,206.26 L407.88,206.23 L408.24,206.19 L408.60,206.16 L408.95,206.12 L409.31,206.08 L409.67,206.05 L410.03,206.01 L410.38,205.97 L410.74,205.94 L411.10,205.90 L411.46,205.86 L411.81,205.83 L412.17,205.79 L412.53,205.76 L412.89,205.72 L413.24,205.68 L413.60,205.65 L413.96,205.61 L414.32,205.57 L414.67,205.53 L415.03,205.50 L415.39,205.46 L415.75,205.42 L416.11,205.39 L416.46,205.35 L416.82,205.31 L417.18,205.27 L417.54,205.24 L417.89,205.20 L418.25,205.16 L418.61,205.12 L418.97,205.09 L419.32,205.05 L419.68,205.01 L420.04,204.97 L420.40,204.94 L420.75,204.90 L421.11,204.86 L421.47,204.82 L421.83,204.78 L422.18,204.75 L422.54,204.71 L422.90,204.67 L423.26,204.63 L423.62,204.59 L423.97,204.55 L424.33,204.51 L424.69,204.48 L425.05,204.44 L425.40,204.40 L425.76,204.36 L426.12,204.32 L426.48,204.28 L426.83,204.24 L427.19,204.20 L427.55,204.16 L427.91,204.12 L428.26,204.08 L428.62,204.04 L428.98,204.00 L429.34,203.96 L429.69,203.92 L430.05,203.88 L430.41,203.84 L430.77,203.80 L431.12,203.76 L431.48,203.72 L431.84,203.68 L432.20,203.64 L432.56,203.60 L432.91,203.56 L433.27,203.51 L433.63,203.47 L433.99,203.43 L434.34,203.39 L434.70,203.35 L435.06,203.31 L435.42,203.26 L435.77,203.22 L436.13,203.18 L436.49,203.14 L436.85,203.09 L437.20,203.05 L437.56,203.01 L437.92,202.97 L438.28,202.92 L438.63,202.88 L438.99,202.84 L439.35,202.79 L439.71,202.75 L440.07,202.71 L440.42,202.66 L440.78,202.62 L441.14,202.57 L441.50,202.53 L441.85,202.48 L442.21,202.44 L442.57,202.39 L442.93,202.35 L443.28,202.30 L443.64,202.26 L444.00,202.21 L444.36,202.17 L444.71,202.12 L445.07,202.07 L445.43,202.03 L445.79,201.98 L446.14,201.93 L446.50,201.89 L446.86,201.84 L447.22,201.79 L447.57,201.74 L447.93,201.70 L448.29,201.65 L448.65,201.60 L449.01,201.55 L449.36,201.50 L449.72,201.45 L450.08,201.40 L450.44,201.36 L450.79,201.31 L451.15,201.26 L451.51,201.21 L451.87,201.15 L452.22,201.10 L452.58,201.05 L452.94,201.00 L453.30,200.95 L453.65,200.90 L454.01,200.85 L454.37,200.79 L454.73,200.74 L455.08,200.69 L455.44,200.64 L455.80,200.58 L456.16,200.53 L456.52,200.47 L456.87,200.42 L457.23,200.36 L457.59,200.31 L457.95,200.25 L458.30,200.20 L458.66,200.14 L459.02,200.08 L459.38,200.03 L459.73,199.97 L460.09,199.91 L460.45,199.86 L460.81,199.80 L461.16,199.74 L461.52,199.68 L461.88,199.62 L462.24,199.56 L462.59,199.50 L462.95,199.44 L463.31,199.38 L463.67,199.31 L464.02,199.25 L464.38,199.19 L464.74,199.13 L465.10,199.06 L465.46,199.00 L465.81,198.93 L466.17,198.87 L466.53,198.80 L466.89,198.74 L467.24,198.67 L467.60,198.60 L467.96,198.53 L468.32,198.47 L468.67,198.40 L469.03,198.33 L469.39,198.26 L469.75,198.19 L470.10,198.11 L470.46,198.04 L470.82,197.97 L471.18,197.89 L471.53,197.82 L471.89,197.75 L472.25,197.67 L472.61,197.59 L472.97,197.51 L473.32,197.44 L473.68,197.36 L474.04,197.28 L474.40,197.20 L474.75,197.11 L475.11,197.03 L475.47,196.95 L475.83,196.86 L476.18,196.78 L476.54,196.69 L476.90,196.60 L477.26,196.51 L477.61,196.42 L477.97,196.33 L478.33,196.24 L478.69,196.15 L479.04,196.05 L479.40,195.95 L479.76,195.86 L480.12,195.76 L480.47,195.66 L480.83,195.55 L481.19,195.45 L481.55,195.34 L481.91,195.24 L482.26,195.13 L482.62,195.02 L482.98,194.91 L483.34,194.79 L483.69,194.68 L484.05,194.56 L484.41,194.44 L484.77,194.31 L485.12,194.19 L485.48,194.06 L485.84,193.93 L486.20,193.80 L486.55,193.66 L486.91,193.52 L487.27,193.38 L487.63,193.23 L487.98,193.09 L488.34,192.93 L488.70,192.78 L489.06,192.62 L489.42,192.45 L489.77,192.28 L490.13,192.11 L490.49,191.93 L490.85,191.75 L491.20,191.56 L491.56,191.36 L491.92,191.16 L492.28,190.95 L492.63,190.73 L492.99,190.51 L493.35,190.28 L493.71,190.03 L494.06,189.78 L494.42,189.51 L494.78,189.24 L495.14,188.95 L495.49,188.64 L495.85,188.32 L496.21,187.97 L496.57,187.61 L496.92,187.22 L497.28,186.80 L497.64,186.35 L498.00,185.87 L498.36,185.33 L498.71,184.74 L499.07,184.09 L499.43,183.34 L499.79,182.48 L499.79,182.48 L499.86,182.29 L499.93,182.09 L500.00,181.89 L500.08,181.67 L500.15,181.45 L500.22,181.22 L500.30,180.98 L500.37,180.72 L500.44,180.46 L500.51,180.18 L500.59,179.89 L500.66,179.58 L500.73,179.25 L501.93,180.80 L503.12,179.19 L503.20,179.52 L503.27,179.82 L503.34,180.11 L503.42,180.39 L503.49,180.65 L503.56,180.90 L503.63,181.13 L503.71,181.36 L503.78,181.58 L503.85,181.79 L503.93,182.00 L504.00,182.19 L504.07,182.38 L504.07,182.38 L504.45,183.25 L504.82,184.01 L505.19,184.67 L505.57,185.25 L505.94,185.78 L506.32,186.26 L506.69,186.71 L507.06,187.11 L507.44,187.49 L507.81,187.84 L508.18,188.17 L508.56,188.48 L508.93,188.78 L509.31,189.05 L509.68,189.32 L510.05,189.57 L510.43,189.80" fill="none" stroke="#8FB032" stroke-width="2.45" stroke-linejoin="round" clip-path="url(#ce)" stroke-linejoin="miter"/>
<path d="M222.04,251.00 L222.04,245.23 L222.11,244.11 L222.18,243.17 L222.25,242.37 L222.33,241.68 L222.40,241.06 L222.47,240.50 L222.55,239.99 L222.62,239.53 L222.69,239.10 L222.76,238.71 L222.84,238.34 L222.91,237.99 L222.98,237.66 L223.06,237.35 L223.13,237.06 L223.20,236.78 L223.27,236.52 L223.35,236.27 L223.42,236.03 L223.49,235.79 L223.57,235.57 L223.64,235.36 L223.71,235.15 L223.78,234.95 L223.86,234.76 L223.86,234.76 L224.21,233.91 L224.57,233.16 L224.93,232.51 L225.29,231.92 L225.64,231.39 L226.00,230.90 L226.36,230.46 L226.72,230.04 L227.07,229.66 L227.43,229.29 L227.79,228.95 L228.15,228.63 L228.50,228.33 L228.86,228.04 L229.22,227.76 L229.58,227.50 L229.93,227.25 L230.29,227.00 L230.65,226.77 L231.01,226.55 L231.36,226.34 L231.72,226.13 L232.08,225.93 L232.44,225.73 L232.79,225.55 L233.15,225.36 L233.51,225.19 L233.86,225.02 L234.22,224.85 L234.58,224.69 L234.94,224.53 L235.29,224.37 L235.65,224.22 L236.01,224.08 L236.37,223.93 L236.72,223.79 L237.08,223.66 L237.44,223.52 L237.80,223.39 L238.15,223.26 L238.51,223.14 L238.87,223.02 L239.23,222.89 L239.58,222.78 L239.94,222.66 L240.30,222.55 L240.66,222.43 L241.01,222.32 L241.37,222.21 L241.73,222.11 L242.09,222.00 L242.44,221.90 L242.80,221.80 L243.16,221.70 L243.52,221.60 L243.87,221.50 L244.23,221.41 L244.59,221.31 L244.94,221.22 L245.30,221.13 L245.66,221.04 L246.02,220.95 L246.37,220.86 L246.73,220.77 L247.09,220.69 L247.45,220.60 L247.80,220.52 L248.16,220.44 L248.52,220.36 L248.88,220.27 L249.23,220.20 L249.59,220.12 L249.95,220.04 L250.31,219.96 L250.66,219.89 L251.02,219.81 L251.38,219.74 L251.74,219.66 L252.09,219.59 L252.45,219.52 L252.81,219.45 L253.17,219.37 L253.52,219.30 L253.88,219.23 L254.24,219.17 L254.60,219.10 L254.95,219.03 L255.31,218.96 L255.67,218.90 L256.02,218.83 L256.38,218.77 L256.74,218.70 L257.10,218.64 L257.45,218.58 L257.81,218.51 L258.17,218.45 L258.53,218.39 L258.88,218.33 L259.24,218.27 L259.60,218.21 L259.96,218.15 L260.31,218.09 L260.67,218.03 L261.03,217.97 L261.39,217.91 L261.74,217.85 L262.10,217.80 L262.46,217.74 L262.82,217.68 L263.17,217.63 L263.53,217.57 L263.89,217.52 L264.25,217.46 L264.60,217.41 L264.96,217.36 L265.32,217.30 L265.68,217.25 L266.03,217.20 L266.39,217.14 L266.75,217.09 L267.11,217.04 L267.46,216.99 L267.82,216.94 L268.18,216.89 L268.53,216.84 L268.89,216.78 L269.25,216.74 L269.61,216.69 L269.96,216.64 L270.32,216.59 L270.68,216.54 L271.04,216.49 L271.39,216.44 L271.75,216.39 L272.11,216.35 L272.47,216.30 L272.82,216.25 L273.18,216.20 L273.54,216.16 L273.90,216.11 L274.25,216.06 L274.61,216.02 L274.97,215.97 L275.33,215.93 L275.68,215.88 L276.04,215.84 L276.40,215.79 L276.76,215.75 L277.11,215.70 L277.47,215.66 L277.83,215.62 L278.19,215.57 L278.54,215.53 L278.90,215.49 L279.26,215.44 L279.61,215.40 L279.97,215.36 L280.33,215.31 L280.69,215.27 L281.04,215.23 L281.40,215.19 L281.76,215.15 L282.12,215.10 L282.47,215.06 L282.83,215.02 L283.19,214.98 L283.55,214.94 L283.90,214.90 L284.26,214.86 L284.62,214.82 L284.98,214.78 L285.33,214.74 L285.69,214.70 L286.05,214.66 L286.41,214.62 L286.76,214.58 L287.12,214.54 L287.48,214.50 L287.84,214.46 L288.19,214.42 L288.55,214.38 L288.91,214.35 L289.27,214.31 L289.62,214.27 L289.98,214.23 L290.34,214.19 L290.69,214.16 L291.05,214.12 L291.41,214.08 L291.77,214.04 L292.12,214.01 L292.48,213.97 L292.84,213.93 L293.20,213.89 L293.55,213.86 L293.91,213.82 L294.27,213.78 L294.63,213.75 L294.98,213.71 L295.34,213.67 L295.70,213.64 L296.06,213.60 L296.41,213.57 L296.77,213.53 L297.13,213.49 L297.49,213.46 L297.84,213.42 L298.20,213.39 L298.56,213.35 L298.92,213.32 L299.27,213.28 L299.63,213.25 L299.99,213.21 L300.35,213.18 L300.70,213.14 L301.06,213.11 L301.42,213.07 L301.77,213.04 L302.13,213.01 L302.49,212.97 L302.85,212.94 L303.20,212.90 L303.56,212.87 L303.92,212.84 L304.28,212.80 L304.63,212.77 L304.99,212.73 L305.35,212.70 L305.71,212.67 L306.06,212.63 L306.42,212.60 L306.78,212.57 L307.14,212.53 L307.49,212.50 L307.85,212.47 L308.21,212.43 L308.57,212.40 L308.92,212.37 L309.28,212.34 L309.64,212.30 L310.00,212.27 L310.35,212.24 L310.71,212.21 L311.07,212.17 L311.43,212.14 L311.78,212.11 L312.14,212.08 L312.50,212.05 L312.85,212.01 L313.21,211.98 L313.57,211.95 L313.93,211.92 L314.28,211.89 L314.64,211.85 L315.00,211.82 L315.36,211.79 L315.71,211.76 L316.07,211.73 L316.43,211.70 L316.79,211.67 L317.14,211.63 L317.50,211.60 L317.86,211.57 L318.22,211.54 L318.57,211.51 L318.93,211.48 L319.29,211.45 L319.65,211.42 L320.00,211.39 L320.36,211.36 L320.72,211.32 L321.08,211.29 L321.43,211.26 L321.79,211.23 L322.15,211.20 L322.51,211.17 L322.86,211.14 L323.22,211.11 L323.58,211.08 L323.93,211.05 L324.29,211.02 L324.65,210.99 L325.01,210.96 L325.36,210.93 L325.72,210.90 L326.08,210.87 L326.44,210.84 L326.79,210.81 L327.15,210.78 L327.51,210.75 L327.87,210.72 L328.22,210.69 L328.58,210.66 L328.94,210.63 L329.30,210.60 L329.65,210.57 L330.01,210.54 L330.37,210.51 L330.73,210.48 L331.08,210.45 L331.44,210.42 L331.80,210.39 L332.16,210.36 L332.51,210.34 L332.87,210.31 L333.23,210.28 L333.59,210.25 L333.94,210.22 L334.30,210.19 L334.66,210.16 L335.01,210.13 L335.37,210.10 L335.73,210.07 L336.09,210.04 L336.44,210.01 L336.80,209.99 L337.16,209.96 L337.52,209.93 L337.87,209.90 L338.23,209.87 L338.59,209.84 L338.95,209.81 L339.30,209.78 L339.66,209.75 L340.02,209.73 L340.38,209.70 L340.73,209.67 L341.09,209.64 L341.45,209.61 L341.81,209.58 L342.16,209.55 L342.52,209.53 L342.88,209.50 L343.24,209.47 L343.59,209.44 L343.95,209.41 L344.31,209.38 L344.67,209.35 L345.02,209.33 L345.38,209.30 L345.74,209.27 L346.09,209.24 L346.45,209.21 L346.81,209.18 L347.17,209.15 L347.52,209.13 L347.88,209.10 L348.24,209.07 L348.60,209.04 L348.95,209.01 L349.31,208.98 L349.67,208.96 L350.03,208.93 L350.38,208.90 L350.74,208.87 L351.10,208.84 L351.46,208.82 L351.81,208.79 L352.17,208.76 L352.53,208.73 L352.89,208.70 L353.24,208.67 L353.60,208.65 L353.96,208.62 L354.32,208.59 L354.67,208.56 L355.03,208.53 L355.39,208.51 L355.75,208.48 L356.10,208.45 L356.46,208.42 L356.82,208.39 L357.17,208.36 L357.53,208.34 L357.89,208.31 L358.25,208.28 L358.60,208.25 L358.96,208.22 L359.32,208.20 L359.68,208.17 L360.03,208.14 L360.39,208.11 L360.75,208.08 L361.11,208.06 L361.46,208.03 L361.82,208.00 L362.18,207.97 L362.54,207.94 L362.89,207.92 L363.25,207.89 L363.61,207.86 L363.97,207.83 L364.32,207.80 L364.68,207.78 L365.04,207.75 L365.40,207.72 L365.75,207.69 L366.11,207.66 L366.47,207.64 L366.83,207.61 L367.18,207.58 L367.54,207.55 L367.90,207.52 L368.25,207.49 L368.61,207.47 L368.97,207.44 L369.33,207.41 L369.68,207.38 L370.04,207.35 L370.40,207.33 L370.76,207.30 L371.11,207.27 L371.47,207.24 L371.83,207.21 L372.19,207.18 L372.54,207.16 L372.90,207.13 L373.26,207.10 L373.62,207.07 L373.97,207.04 L374.33,207.02 L374.69,206.99 L375.05,206.96 L375.40,206.93 L375.76,206.90 L376.12,206.87 L376.48,206.85 L376.83,206.82 L377.19,206.79 L377.55,206.76 L377.91,206.73 L378.26,206.70 L378.62,206.67 L378.98,206.65 L379.34,206.62 L379.69,206.59 L380.05,206.56 L380.41,206.53 L380.76,206.50 L381.12,206.47 L381.48,206.45 L381.84,206.42 L382.19,206.39 L382.55,206.36 L382.91,206.33 L383.27,206.30 L383.62,206.27 L383.98,206.25 L384.34,206.22 L384.70,206.19 L385.05,206.16 L385.41,206.13 L385.77,206.10 L386.13,206.07 L386.48,206.04 L386.84,206.01 L387.20,205.99 L387.56,205.96 L387.91,205.93 L388.27,205.90 L388.63,205.87 L388.99,205.84 L389.34,205.81 L389.70,205.78 L390.06,205.75 L390.42,205.72 L390.77,205.69 L391.13,205.66 L391.49,205.64 L391.84,205.61 L392.20,205.58 L392.56,205.55 L392.92,205.52 L393.27,205.49 L393.63,205.46 L393.99,205.43 L394.35,205.40 L394.70,205.37 L395.06,205.34 L395.42,205.31 L395.78,205.28 L396.13,205.25 L396.49,205.22 L396.85,205.19 L397.21,205.16 L397.56,205.13 L397.92,205.10 L398.28,205.07 L398.64,205.04 L398.99,205.01 L399.35,204.98 L399.71,204.95 L400.07,204.92 L400.42,204.89 L400.78,204.86 L401.14,204.83 L401.50,204.80 L401.85,204.77 L402.21,204.74 L402.57,204.71 L402.92,204.68 L403.28,204.64 L403.64,204.61 L404.00,204.58 L404.35,204.55 L404.71,204.52 L405.07,204.49 L405.43,204.46 L405.78,204.43 L406.14,204.40 L406.50,204.37 L406.86,204.33 L407.21,204.30 L407.57,204.27 L407.93,204.24 L408.29,204.21 L408.64,204.18 L409.00,204.15 L409.36,204.11 L409.72,204.08 L410.07,204.05 L410.43,204.02 L410.79,203.99 L411.15,203.95 L411.50,203.92 L411.86,203.89 L412.22,203.86 L412.58,203.83 L412.93,203.79 L413.29,203.76 L413.65,203.73 L414.00,203.70 L414.36,203.66 L414.72,203.63 L415.08,203.60 L415.43,203.57 L415.79,203.53 L416.15,203.50 L416.51,203.47 L416.86,203.43 L417.22,203.40 L417.58,203.37 L417.94,203.33 L418.29,203.30 L418.65,203.27 L419.01,203.23 L419.37,203.20 L419.72,203.16 L420.08,203.13 L420.44,203.10 L420.80,203.06 L421.15,203.03 L421.51,202.99 L421.87,202.96 L422.23,202.93 L422.58,202.89 L422.94,202.86 L423.30,202.82 L423.66,202.79 L424.01,202.75 L424.37,202.72 L424.73,202.68 L425.08,202.65 L425.44,202.61 L425.80,202.58 L426.16,202.54 L426.51,202.51 L426.87,202.47 L427.23,202.43 L427.59,202.40 L427.94,202.36 L428.30,202.33 L428.66,202.29 L429.02,202.25 L429.37,202.22 L429.73,202.18 L430.09,202.14 L430.45,202.11 L430.80,202.07 L431.16,202.03 L431.52,201.99 L431.88,201.96 L432.23,201.92 L432.59,201.88 L432.95,201.84 L433.31,201.81 L433.66,201.77 L434.02,201.73 L434.38,201.69 L434.74,201.65 L435.09,201.62 L435.45,201.58 L435.81,201.54 L436.16,201.50 L436.52,201.46 L436.88,201.42 L437.24,201.38 L437.59,201.34 L437.95,201.30 L438.31,201.26 L438.67,201.22 L439.02,201.18 L439.38,201.14 L439.74,201.10 L440.10,201.06 L440.45,201.02 L440.81,200.98 L441.17,200.94 L441.53,200.90 L441.88,200.85 L442.24,200.81 L442.60,200.77 L442.96,200.73 L443.31,200.69 L443.67,200.64 L444.03,200.60 L444.39,200.56 L444.74,200.51 L445.10,200.47 L445.46,200.43 L445.82,200.38 L446.17,200.34 L446.53,200.30 L446.89,200.25 L447.24,200.21 L447.60,200.16 L447.96,200.12 L448.32,200.07 L448.67,200.03 L449.03,199.98 L449.39,199.94 L449.75,199.89 L450.10,199.84 L450.46,199.80 L450.82,199.75 L451.18,199.70 L451.53,199.65 L451.89,199.61 L452.25,199.56 L452.61,199.51 L452.96,199.46 L453.32,199.41 L453.68,199.36 L454.04,199.31 L454.39,199.26 L454.75,199.22 L455.11,199.16 L455.47,199.11 L455.82,199.06 L456.18,199.01 L456.54,198.96 L456.90,198.91 L457.25,198.86 L457.61,198.80 L457.97,198.75 L458.32,198.70 L458.68,198.64 L459.04,198.59 L459.40,198.54 L459.75,198.48 L460.11,198.43 L460.47,198.37 L460.83,198.32 L461.18,198.26 L461.54,198.20 L461.90,198.15 L462.26,198.09 L462.61,198.03 L462.97,197.97 L463.33,197.91 L463.69,197.85 L464.04,197.79 L464.40,197.73 L464.76,197.67 L465.12,197.61 L465.47,197.55 L465.83,197.49 L466.19,197.42 L466.55,197.36 L466.90,197.30 L467.26,197.23 L467.62,197.17 L467.98,197.10 L468.33,197.04 L468.69,196.97 L469.05,196.90 L469.40,196.83 L469.76,196.77 L470.12,196.70 L470.48,196.63 L470.83,196.55 L471.19,196.48 L471.55,196.41 L471.91,196.34 L472.26,196.26 L472.62,196.19 L472.98,196.11 L473.34,196.04 L473.69,195.96 L474.05,195.88 L474.41,195.80 L474.77,195.73 L475.12,195.64 L475.48,195.56 L475.84,195.48 L476.20,195.40 L476.55,195.31 L476.91,195.23 L477.27,195.14 L477.63,195.05 L477.98,194.96 L478.34,194.87 L478.70,194.78 L479.06,194.69 L479.41,194.59 L479.77,194.50 L480.13,194.40 L480.49,194.30 L480.84,194.20 L481.20,194.10 L481.56,194.00 L481.91,193.89 L482.27,193.79 L482.63,193.68 L482.99,193.57 L483.34,193.45 L483.70,193.34 L484.06,193.22 L484.42,193.11 L484.77,192.98 L485.13,192.86 L485.49,192.74 L485.85,192.61 L486.20,192.48 L486.56,192.34 L486.92,192.21 L487.28,192.07 L487.63,191.92 L487.99,191.78 L488.35,191.63 L488.71,191.47 L489.06,191.31 L489.42,191.15 L489.78,190.98 L490.14,190.81 L490.49,190.64 L490.85,190.45 L491.21,190.27 L491.57,190.07 L491.92,189.87 L492.28,189.66 L492.64,189.45 L492.99,189.23 L493.35,189.00 L493.71,188.75 L494.07,188.50 L494.42,188.24 L494.78,187.96 L495.14,187.67 L495.50,187.37 L495.85,187.05 L496.21,186.71 L496.57,186.34 L496.93,185.96 L497.28,185.54 L497.64,185.10 L498.00,184.61 L498.36,184.08 L498.71,183.49 L499.07,182.84 L499.43,182.09 L499.79,181.24 L499.79,181.24 L499.86,181.05 L499.93,180.85 L500.00,180.64 L500.08,180.43 L500.15,180.21 L500.22,179.97 L500.30,179.73 L500.37,179.48 L500.44,179.22 L500.51,178.94 L500.59,178.65 L500.66,178.34 L500.73,178.01 L500.81,177.66 L500.88,177.29 L500.95,176.90 L501.02,176.47 L501.10,176.01 L501.17,175.50 L501.24,174.94 L501.32,174.32 L501.39,173.63 L501.46,172.83 L501.53,171.89 L501.61,170.77 L501.61,153.60 L502.25,153.60 L502.25,170.76 L502.32,171.88 L502.40,172.81 L502.47,173.60 L502.54,174.30 L502.61,174.92 L502.69,175.47 L502.76,175.97 L502.83,176.43 L502.91,176.86 L502.98,177.25 L503.05,177.62 L503.12,177.96 L503.20,178.29 L503.27,178.59 L503.34,178.88 L503.42,179.16 L503.49,179.42 L503.56,179.67 L503.63,179.91 L503.71,180.14 L503.78,180.36 L503.85,180.57 L503.93,180.77 L504.00,180.97 L504.07,181.15 L504.07,181.15 L504.45,182.03 L504.82,182.79 L505.19,183.45 L505.57,184.04 L505.94,184.57 L506.32,185.05 L506.69,185.49 L507.06,185.90 L507.44,186.28 L507.81,186.64 L508.18,186.97 L508.56,187.28 L508.93,187.57 L509.31,187.85 L509.68,188.12 L510.05,188.37 L510.43,188.61" fill="none" stroke="#EB6235" stroke-width="2.45" stroke-linejoin="round" clip-path="url(#ce)" stroke-linejoin="miter"/>
<path d="M222.68,251.00 L222.68,245.22 L222.75,244.09 L222.82,243.16 L222.90,242.36 L222.97,241.66 L223.04,241.04 L223.12,240.49 L223.19,239.98 L223.26,239.52 L223.33,239.09 L223.41,238.69 L223.48,238.32 L223.55,237.98 L223.63,237.65 L223.70,237.34 L223.77,237.05 L223.84,236.77 L223.92,236.51 L223.99,236.25 L224.06,236.01 L224.14,235.78 L224.21,235.56 L224.28,235.34 L224.35,235.14 L224.43,234.94 L224.50,234.75 L224.50,234.75 L224.86,233.89 L225.22,233.15 L225.57,232.50 L225.93,231.91 L226.29,231.38 L226.65,230.89 L227.00,230.44 L227.36,230.03 L227.72,229.64 L228.08,229.28 L228.43,228.94 L228.79,228.62 L229.15,228.31 L229.51,228.02 L229.86,227.75 L230.22,227.48 L230.58,227.23 L230.94,226.99 L231.29,226.76 L231.65,226.54 L232.01,226.32 L232.37,226.11 L232.72,225.91 L233.08,225.72 L233.44,225.53 L233.80,225.35 L234.15,225.17 L234.51,225.00 L234.87,224.83 L235.23,224.67 L235.58,224.51 L235.94,224.36 L236.30,224.21 L236.66,224.06 L237.01,223.92 L237.37,223.78 L237.73,223.64 L238.09,223.51 L238.44,223.38 L238.80,223.25 L239.16,223.12 L239.52,223.00 L239.87,222.88 L240.23,222.76 L240.59,222.64 L240.95,222.53 L241.30,222.42 L241.66,222.31 L242.02,222.20 L242.38,222.09 L242.73,221.99 L243.09,221.88 L243.45,221.78 L243.81,221.68 L244.16,221.58 L244.52,221.49 L244.88,221.39 L245.24,221.30 L245.59,221.20 L245.95,221.11 L246.31,221.02 L246.67,220.93 L247.02,220.85 L247.38,220.76 L247.74,220.67 L248.10,220.59 L248.45,220.50 L248.81,220.42 L249.17,220.34 L249.53,220.26 L249.88,220.18 L250.24,220.10 L250.60,220.02 L250.96,219.95 L251.31,219.87 L251.67,219.79 L252.03,219.72 L252.39,219.65 L252.74,219.57 L253.10,219.50 L253.46,219.43 L253.82,219.36 L254.17,219.29 L254.53,219.22 L254.89,219.15 L255.25,219.08 L255.60,219.01 L255.96,218.95 L256.32,218.88 L256.68,218.82 L257.03,218.75 L257.39,218.69 L257.75,218.62 L258.11,218.56 L258.46,218.50 L258.82,218.43 L259.18,218.37 L259.54,218.31 L259.89,218.25 L260.25,218.19 L260.61,218.13 L260.97,218.07 L261.32,218.01 L261.68,217.95 L262.04,217.90 L262.40,217.84 L262.75,217.78 L263.11,217.72 L263.47,217.67 L263.83,217.61 L264.18,217.56 L264.54,217.50 L264.90,217.45 L265.26,217.39 L265.61,217.34 L265.97,217.29 L266.33,217.23 L266.69,217.18 L267.04,217.13 L267.40,217.07 L267.76,217.02 L268.12,216.97 L268.47,216.92 L268.83,216.87 L269.19,216.82 L269.55,216.77 L269.90,216.72 L270.26,216.67 L270.62,216.62 L270.98,216.57 L271.33,216.52 L271.69,216.47 L272.05,216.42 L272.41,216.38 L272.76,216.33 L273.12,216.28 L273.48,216.23 L273.84,216.19 L274.19,216.14 L274.55,216.09 L274.91,216.05 L275.27,216.00 L275.62,215.96 L275.98,215.91 L276.34,215.87 L276.70,215.82 L277.05,215.78 L277.41,215.73 L277.77,215.69 L278.13,215.64 L278.48,215.60 L278.84,215.55 L279.20,215.51 L279.56,215.47 L279.91,215.42 L280.27,215.38 L280.63,215.34 L280.99,215.30 L281.34,215.25 L281.70,215.21 L282.06,215.17 L282.42,215.13 L282.77,215.09 L283.13,215.05 L283.49,215.00 L283.85,214.96 L284.20,214.92 L284.56,214.88 L284.92,214.84 L285.28,214.80 L285.63,214.76 L285.99,214.72 L286.35,214.68 L286.71,214.64 L287.06,214.60 L287.42,214.56 L287.78,214.52 L288.14,214.48 L288.49,214.44 L288.85,214.40 L289.21,214.37 L289.57,214.33 L289.93,214.29 L290.28,214.25 L290.64,214.21 L291.00,214.17 L291.36,214.14 L291.71,214.10 L292.07,214.06 L292.43,214.02 L292.79,213.99 L293.14,213.95 L293.50,213.91 L293.86,213.87 L294.22,213.84 L294.57,213.80 L294.93,213.76 L295.29,213.73 L295.65,213.69 L296.00,213.66 L296.36,213.62 L296.72,213.58 L297.08,213.55 L297.43,213.51 L297.79,213.48 L298.15,213.44 L298.51,213.40 L298.86,213.37 L299.22,213.33 L299.58,213.30 L299.94,213.26 L300.29,213.23 L300.65,213.19 L301.01,213.16 L301.37,213.12 L301.72,213.09 L302.08,213.05 L302.44,213.02 L302.80,212.99 L303.15,212.95 L303.51,212.92 L303.87,212.88 L304.23,212.85 L304.58,212.82 L304.94,212.78 L305.30,212.75 L305.66,212.71 L306.01,212.68 L306.37,212.65 L306.73,212.61 L307.09,212.58 L307.44,212.55 L307.80,212.51 L308.16,212.48 L308.52,212.45 L308.87,212.41 L309.23,212.38 L309.59,212.35 L309.95,212.32 L310.30,212.28 L310.66,212.25 L311.02,212.22 L311.38,212.19 L311.73,212.15 L312.09,212.12 L312.45,212.09 L312.81,212.06 L313.16,212.02 L313.52,211.99 L313.88,211.96 L314.24,211.93 L314.59,211.90 L314.95,211.87 L315.31,211.83 L315.67,211.80 L316.02,211.77 L316.38,211.74 L316.74,211.71 L317.10,211.68 L317.45,211.64 L317.81,211.61 L318.17,211.58 L318.53,211.55 L318.88,211.52 L319.24,211.49 L319.60,211.46 L319.96,211.43 L320.31,211.40 L320.67,211.36 L321.03,211.33 L321.39,211.30 L321.74,211.27 L322.10,211.24 L322.46,211.21 L322.82,211.18 L323.17,211.15 L323.53,211.12 L323.89,211.09 L324.25,211.06 L324.60,211.03 L324.96,211.00 L325.32,210.97 L325.68,210.94 L326.03,210.91 L326.39,210.88 L326.75,210.85 L327.11,210.82 L327.46,210.79 L327.82,210.76 L328.18,210.73 L328.54,210.70 L328.89,210.67 L329.25,210.64 L329.61,210.61 L329.97,210.58 L330.32,210.55 L330.68,210.52 L331.04,210.49 L331.40,210.46 L331.75,210.43 L332.11,210.40 L332.47,210.37 L332.83,210.34 L333.18,210.31 L333.54,210.28 L333.90,210.25 L334.26,210.22 L334.61,210.19 L334.97,210.17 L335.33,210.14 L335.69,210.11 L336.04,210.08 L336.40,210.05 L336.76,210.02 L337.12,209.99 L337.47,209.96 L337.83,209.93 L338.19,209.90 L338.55,209.87 L338.90,209.85 L339.26,209.82 L339.62,209.79 L339.98,209.76 L340.33,209.73 L340.69,209.70 L341.05,209.67 L341.41,209.64 L341.76,209.62 L342.12,209.59 L342.48,209.56 L342.84,209.53 L343.19,209.50 L343.55,209.47 L343.91,209.44 L344.27,209.41 L344.62,209.39 L344.98,209.36 L345.34,209.33 L345.70,209.30 L346.05,209.27 L346.41,209.24 L346.77,209.21 L347.13,209.19 L347.48,209.16 L347.84,209.13 L348.20,209.10 L348.56,209.07 L348.91,209.04 L349.27,209.02 L349.63,208.99 L349.99,208.96 L350.34,208.93 L350.70,208.90 L351.06,208.87 L351.42,208.85 L351.77,208.82 L352.13,208.79 L352.49,208.76 L352.85,208.73 L353.21,208.70 L353.56,208.68 L353.92,208.65 L354.28,208.62 L354.64,208.59 L354.99,208.56 L355.35,208.53 L355.71,208.51 L356.07,208.48 L356.42,208.45 L356.78,208.42 L357.14,208.39 L357.50,208.37 L357.85,208.34 L358.21,208.31 L358.57,208.28 L358.93,208.25 L359.28,208.23 L359.64,208.20 L360.00,208.17 L360.36,208.14 L360.71,208.11 L361.07,208.08 L361.43,208.06 L361.79,208.03 L362.14,208.00 L362.50,207.97 L362.86,207.94 L363.22,207.92 L363.57,207.89 L363.93,207.86 L364.29,207.83 L364.65,207.80 L365.00,207.77 L365.36,207.75 L365.72,207.72 L366.08,207.69 L366.43,207.66 L366.79,207.63 L367.15,207.61 L367.51,207.58 L367.86,207.55 L368.22,207.52 L368.58,207.49 L368.94,207.47 L369.29,207.44 L369.65,207.41 L370.01,207.38 L370.37,207.35 L370.72,207.32 L371.08,207.30 L371.44,207.27 L371.80,207.24 L372.15,207.21 L372.51,207.18 L372.87,207.15 L373.23,207.13 L373.58,207.10 L373.94,207.07 L374.30,207.04 L374.66,207.01 L375.01,206.98 L375.37,206.96 L375.73,206.93 L376.09,206.90 L376.44,206.87 L376.80,206.84 L377.16,206.81 L377.52,206.79 L377.87,206.76 L378.23,206.73 L378.59,206.70 L378.95,206.67 L379.30,206.64 L379.66,206.61 L380.02,206.59 L380.38,206.56 L380.73,206.53 L381.09,206.50 L381.45,206.47 L381.81,206.44 L382.16,206.41 L382.52,206.38 L382.88,206.36 L383.24,206.33 L383.59,206.30 L383.95,206.27 L384.31,206.24 L384.67,206.21 L385.02,206.18 L385.38,206.15 L385.74,206.13 L386.10,206.10 L386.45,206.07 L386.81,206.04 L387.17,206.01 L387.53,205.98 L387.88,205.95 L388.24,205.92 L388.60,205.89 L388.96,205.86 L389.31,205.83 L389.67,205.81 L390.03,205.78 L390.39,205.75 L390.74,205.72 L391.10,205.69 L391.46,205.66 L391.82,205.63 L392.17,205.60 L392.53,205.57 L392.89,205.54 L393.25,205.51 L393.60,205.48 L393.96,205.45 L394.32,205.42 L394.68,205.39 L395.03,205.36 L395.39,205.33 L395.75,205.30 L396.11,205.27 L396.46,205.24 L396.82,205.21 L397.18,205.18 L397.54,205.15 L397.89,205.12 L398.25,205.09 L398.61,205.06 L398.97,205.03 L399.32,205.00 L399.68,204.97 L400.04,204.94 L400.40,204.91 L400.75,204.88 L401.11,204.85 L401.47,204.82 L401.83,204.79 L402.18,204.76 L402.54,204.73 L402.90,204.70 L403.26,204.67 L403.61,204.64 L403.97,204.60 L404.33,204.57 L404.69,204.54 L405.04,204.51 L405.40,204.48 L405.76,204.45 L406.12,204.42 L406.47,204.39 L406.83,204.36 L407.19,204.32 L407.55,204.29 L407.90,204.26 L408.26,204.23 L408.62,204.20 L408.98,204.17 L409.33,204.13 L409.69,204.10 L410.05,204.07 L410.41,204.04 L410.76,204.01 L411.12,203.98 L411.48,203.94 L411.84,203.91 L412.19,203.88 L412.55,203.85 L412.91,203.81 L413.27,203.78 L413.62,203.75 L413.98,203.72 L414.34,203.68 L414.70,203.65 L415.05,203.62 L415.41,203.59 L415.77,203.55 L416.13,203.52 L416.48,203.49 L416.84,203.45 L417.20,203.42 L417.56,203.39 L417.92,203.35 L418.27,203.32 L418.63,203.29 L418.99,203.25 L419.35,203.22 L419.70,203.18 L420.06,203.15 L420.42,203.12 L420.78,203.08 L421.13,203.05 L421.49,203.01 L421.85,202.98 L422.21,202.95 L422.56,202.91 L422.92,202.88 L423.28,202.84 L423.64,202.81 L423.99,202.77 L424.35,202.74 L424.71,202.70 L425.07,202.67 L425.42,202.63 L425.78,202.60 L426.14,202.56 L426.50,202.52 L426.85,202.49 L427.21,202.45 L427.57,202.42 L427.93,202.38 L428.28,202.34 L428.64,202.31 L429.00,202.27 L429.36,202.24 L429.71,202.20 L430.07,202.16 L430.43,202.13 L430.79,202.09 L431.14,202.05 L431.50,202.01 L431.86,201.98 L432.22,201.94 L432.57,201.90 L432.93,201.86 L433.29,201.83 L433.65,201.79 L434.00,201.75 L434.36,201.71 L434.72,201.67 L435.08,201.63 L435.43,201.60 L435.79,201.56 L436.15,201.52 L436.51,201.48 L436.86,201.44 L437.22,201.40 L437.58,201.36 L437.94,201.32 L438.29,201.28 L438.65,201.24 L439.01,201.20 L439.37,201.16 L439.72,201.12 L440.08,201.08 L440.44,201.04 L440.80,201.00 L441.15,200.95 L441.51,200.91 L441.87,200.87 L442.23,200.83 L442.58,200.79 L442.94,200.75 L443.30,200.70 L443.66,200.66 L444.01,200.62 L444.37,200.58 L444.73,200.53 L445.09,200.49 L445.44,200.45 L445.80,200.40 L446.16,200.36 L446.52,200.31 L446.87,200.27 L447.23,200.22 L447.59,200.18 L447.95,200.13 L448.30,200.09 L448.66,200.04 L449.02,200.00 L449.38,199.95 L449.73,199.91 L450.09,199.86 L450.45,199.81 L450.81,199.77 L451.16,199.72 L451.52,199.67 L451.88,199.62 L452.24,199.58 L452.59,199.53 L452.95,199.48 L453.31,199.43 L453.67,199.38 L454.02,199.33 L454.38,199.28 L454.74,199.23 L455.10,199.18 L455.45,199.13 L455.81,199.08 L456.17,199.03 L456.53,198.98 L456.88,198.93 L457.24,198.87 L457.60,198.82 L457.96,198.77 L458.31,198.71 L458.67,198.66 L459.03,198.61 L459.39,198.55 L459.74,198.50 L460.10,198.44 L460.46,198.39 L460.82,198.33 L461.17,198.28 L461.53,198.22 L461.89,198.16 L462.25,198.10 L462.60,198.05 L462.96,197.99 L463.32,197.93 L463.68,197.87 L464.03,197.81 L464.39,197.75 L464.75,197.69 L465.11,197.63 L465.46,197.57 L465.82,197.50 L466.18,197.44 L466.54,197.38 L466.89,197.31 L467.25,197.25 L467.61,197.18 L467.97,197.12 L468.32,197.05 L468.68,196.99 L469.04,196.92 L469.40,196.85 L469.75,196.78 L470.11,196.71 L470.47,196.64 L470.83,196.57 L471.18,196.50 L471.54,196.43 L471.90,196.35 L472.26,196.28 L472.61,196.21 L472.97,196.13 L473.33,196.05 L473.69,195.98 L474.04,195.90 L474.40,195.82 L474.76,195.74 L475.12,195.66 L475.47,195.58 L475.83,195.50 L476.19,195.41 L476.55,195.33 L476.90,195.24 L477.26,195.15 L477.62,195.07 L477.98,194.98 L478.33,194.89 L478.69,194.80 L479.05,194.70 L479.41,194.61 L479.76,194.51 L480.12,194.42 L480.48,194.32 L480.84,194.22 L481.19,194.12 L481.55,194.01 L481.91,193.91 L482.27,193.80 L482.63,193.69 L482.98,193.58 L483.34,193.47 L483.70,193.36 L484.06,193.24 L484.41,193.12 L484.77,193.00 L485.13,192.88 L485.49,192.75 L485.84,192.62 L486.20,192.49 L486.56,192.36 L486.92,192.22 L487.27,192.08 L487.63,191.94 L487.99,191.79 L488.35,191.64 L488.70,191.49 L489.06,191.33 L489.42,191.17 L489.78,191.00 L490.13,190.83 L490.49,190.65 L490.85,190.47 L491.21,190.28 L491.56,190.09 L491.92,189.89 L492.28,189.68 L492.64,189.46 L492.99,189.24 L493.35,189.01 L493.71,188.77 L494.07,188.52 L494.42,188.25 L494.78,187.98 L495.14,187.69 L495.50,187.38 L495.85,187.06 L496.21,186.72 L496.57,186.36 L496.93,185.97 L497.28,185.56 L497.64,185.11 L498.00,184.62 L498.36,184.09 L498.71,183.50 L499.07,182.85 L499.43,182.11 L499.79,181.25 L499.79,181.25 L499.86,181.06 L499.93,180.86 L500.00,180.66 L500.08,180.44 L500.15,180.22 L500.22,179.99 L500.30,179.75 L500.37,179.49 L500.44,179.23 L500.51,178.95 L500.59,178.66 L500.66,178.35 L500.73,178.02 L500.81,177.68 L500.88,177.31 L500.95,176.91 L501.02,176.48 L501.10,176.02 L501.17,175.51 L501.24,174.96 L501.32,174.34 L501.39,173.64 L501.46,172.84 L501.53,171.91 L501.61,170.78 L501.61,153.60 L502.25,153.60 L502.25,170.77 L502.32,171.89 L502.40,172.82 L502.47,173.62 L502.54,174.31 L502.61,174.93 L502.69,175.48 L502.76,175.99 L502.83,176.45 L502.91,176.87 L502.98,177.26 L503.05,177.63 L503.12,177.98 L503.20,178.30 L503.27,178.61 L503.34,178.90 L503.42,179.17 L503.49,179.43 L503.56,179.68 L503.63,179.92 L503.71,180.15 L503.78,180.37 L503.85,180.58 L503.93,180.78 L504.00,180.98 L504.07,181.17 L504.07,181.17 L504.45,182.04 L504.82,182.80 L505.19,183.46 L505.57,184.05 L505.94,184.58 L506.32,185.06 L506.69,185.51 L507.06,185.91 L507.44,186.29 L507.81,186.65 L508.18,186.98 L508.56,187.29 L508.93,187.59 L509.31,187.87 L509.68,188.13 L510.05,188.38 L510.43,188.62" fill="none" stroke="#EB6235" stroke-width="2.45" stroke-linejoin="round" clip-path="url(#ce)" stroke-linejoin="miter"/>
<path d="M500.36,178.6L503.50,178.6L501.93,165z" fill="#EB6235"/>
</g>
<rect x="698.1" y="149.5" width="18.8" height="112.5" fill="#5E81B5" fill-opacity="0.19"/>
<g transform="scale(1.4,1)">
<path d="M216.50,146.20V266.70M515.29,146.20V266.70" stroke="#111" stroke-width="1.2" fill="none"/>
<path d="M216.50,146.70H515.29M216.50,266.20H515.29" stroke="#2a2a2a" stroke-width="1.0" fill="none"/>
<path d="M221.93,266.20v-1.30M233.43,266.20v-1.30M244.93,266.20v-1.30M256.43,266.20v-1.30M267.93,266.20v-1.30M279.43,266.20v-1.30M290.93,266.20v-1.30M302.43,266.20v-1.30M313.93,266.20v-1.30M325.43,266.20v-1.30M336.93,266.20v-1.30M348.43,266.20v-1.30M359.93,266.20v-1.30M371.43,266.20v-1.30M382.93,266.20v-1.30M394.43,266.20v-1.30M405.93,266.20v-1.30M417.43,266.20v-1.30M428.93,266.20v-1.30M440.43,266.20v-1.30M451.93,266.20v-1.30M463.43,266.20v-1.30M474.93,266.20v-1.30M486.43,266.20v-1.30M497.93,266.20v-1.30M509.43,266.20v-1.30" stroke="#111" stroke-width="0.9" fill="none"/>
<path d="M221.93,266.20v-2.30M279.43,266.20v-2.30M336.93,266.20v-2.30M394.43,266.20v-2.30M451.93,266.20v-2.30M509.43,266.20v-2.30" stroke="#111" stroke-width="1.0" fill="none"/>
<path d="M221.93,146.70v1.30M233.43,146.70v1.30M244.93,146.70v1.30M256.43,146.70v1.30M267.93,146.70v1.30M279.43,146.70v1.30M290.93,146.70v1.30M302.43,146.70v1.30M313.93,146.70v1.30M325.43,146.70v1.30M336.93,146.70v1.30M348.43,146.70v1.30M359.93,146.70v1.30M371.43,146.70v1.30M382.93,146.70v1.30M394.43,146.70v1.30M405.93,146.70v1.30M417.43,146.70v1.30M428.93,146.70v1.30M440.43,146.70v1.30M451.93,146.70v1.30M463.43,146.70v1.30M474.93,146.70v1.30M486.43,146.70v1.30M497.93,146.70v1.30M509.43,146.70v1.30" stroke="#111" stroke-width="0.9" fill="none"/>
<path d="M221.93,146.70v2.30M279.43,146.70v2.30M336.93,146.70v2.30M394.43,146.70v2.30M451.93,146.70v2.30M509.43,146.70v2.30" stroke="#111" stroke-width="1.0" fill="none"/>
<path d="M216.50,261.90h2.00M216.50,255.15h2.00M216.50,248.40h2.00M216.50,241.65h2.00M216.50,234.90h2.00M216.50,228.15h2.00M216.50,221.40h2.00M216.50,214.65h2.00M216.50,207.90h2.00M216.50,201.15h2.00M216.50,194.40h2.00M216.50,187.65h2.00M216.50,180.90h2.00M216.50,174.15h2.00M216.50,167.40h2.00M216.50,160.65h2.00M216.50,153.90h2.00M216.50,147.15h2.00" stroke="#111" stroke-width="0.9" fill="none"/>
<path d="M216.50,261.90h3.43M216.50,234.90h3.43M216.50,207.90h3.43M216.50,180.90h3.43M216.50,153.90h3.43" stroke="#111" stroke-width="1.0" fill="none"/>
<path d="M515.29,261.90h-2.00M515.29,255.15h-2.00M515.29,248.40h-2.00M515.29,241.65h-2.00M515.29,234.90h-2.00M515.29,228.15h-2.00M515.29,221.40h-2.00M515.29,214.65h-2.00M515.29,207.90h-2.00M515.29,201.15h-2.00M515.29,194.40h-2.00M515.29,187.65h-2.00M515.29,180.90h-2.00M515.29,174.15h-2.00M515.29,167.40h-2.00M515.29,160.65h-2.00M515.29,153.90h-2.00M515.29,147.15h-2.00" stroke="#111" stroke-width="0.9" fill="none"/>
<path d="M515.29,261.90h-3.43M515.29,234.90h-3.43M515.29,207.90h-3.43M515.29,180.90h-3.43M515.29,153.90h-3.43" stroke="#111" stroke-width="1.0" fill="none"/>
</g>
<text transform="translate(723.54,192.70) scale(1.0547,1)" font-family='"Liberation Sans", sans-serif' font-size="27.71" fill="#000"  >2</text>
<text transform="translate(723.68,251.20) scale(1.1347,1)" font-family='"Liberation Sans", sans-serif' font-size="27.71" fill="#000"  >-2</text>
<text transform="translate(791.30,241.20) rotate(-90) scale(1.0614,1)" font-family='"Liberation Sans", sans-serif' font-size="26.40" fill="#000" >Gain</text>
<text transform="translate(824.10,267.59) rotate(-90) scale(1.1277,1)" font-family='"Liberation Sans", sans-serif' font-size="26.40" fill="#000" >(100 dB)</text>
<text transform="translate(260.55,158.30) scale(1.1878,1)" font-family='"Liberation Sans", sans-serif' font-size="27.40" fill="#000"  >(e)</text>
<text transform="translate(369.38,290.23) scale(1.1175,1)" font-family='"Liberation Sans", sans-serif' font-size="27.32" fill="#000"  >0.5</text>
<text transform="translate(530.24,290.22) scale(1.0867,1)" font-family='"Liberation Sans", sans-serif' font-size="27.71" fill="#000"  >1.5</text>
<text transform="translate(690.08,290.23) scale(1.1120,1)" font-family='"Liberation Sans", sans-serif' font-size="27.32" fill="#000"  >2.5</text>
<text transform="translate(420.50,316.60) scale(1.2339,1)" font-family='"Liberation Sans", sans-serif' font-size="27.40" fill="#000"  >Power (mW)</text>
<text transform="translate(321.78,250.65) scale(1.3184,1)" font-family='"Liberation Sans", sans-serif' font-size="25.07" fill="#EB6235"  stroke="#EB6235" stroke-width="0.15">0.5</text>
<text transform="translate(400.05,250.55) scale(1.2420,1)" font-family='"Liberation Sans", sans-serif' font-size="25.07" fill="#8FB032"  stroke="#8FB032" stroke-width="0.15">0.4</text>
<text transform="translate(476.12,250.55) scale(1.2758,1)" font-family='"Liberation Sans", sans-serif' font-size="25.07" fill="#E19C24"  stroke="#E19C24" stroke-width="0.15">0.3</text>
<text transform="translate(554.18,248.84) scale(1.0558,1)" font-family='"Liberation Serif", serif' font-size="27.74" fill="#5E81B5" font-style="italic" >η</text>
<rect x="572.1" y="234.6" width="17.8" height="2.5" fill="#5E81B5"/><rect x="572.1" y="241.8" width="17.8" height="2.5" fill="#5E81B5"/>
<text transform="translate(591.48,250.85) scale(1.3163,1)" font-family='"Liberation Sans", sans-serif' font-size="25.07" fill="#5E81B5"  stroke="#5E81B5" stroke-width="0.15">0.2</text>
<path d="M304.70,447.92 L305.10,447.91 L305.50,447.90 L305.90,447.89 L306.30,447.88 L306.70,447.87 L307.10,447.85 L307.50,447.84 L307.90,447.83 L308.30,447.82 L308.70,447.81 L309.10,447.79 L309.50,447.78 L309.90,447.77 L310.30,447.75 L310.70,447.74 L311.10,447.73 L311.50,447.71 L311.90,447.70 L312.30,447.69 L312.70,447.67 L313.10,447.66 L313.50,447.64 L313.90,447.63 L314.30,447.61 L314.70,447.60 L315.10,447.58 L315.50,447.57 L315.90,447.55 L316.30,447.53 L316.70,447.52 L317.10,447.50 L317.50,447.48 L317.90,447.47 L318.30,447.45 L318.70,447.43 L319.10,447.41 L319.50,447.40 L319.90,447.38 L320.30,447.36 L320.70,447.34 L321.10,447.32 L321.50,447.30 L321.90,447.28 L322.30,447.26 L322.70,447.24 L323.10,447.22 L323.50,447.20 L323.90,447.17 L324.30,447.15 L324.70,447.13 L325.10,447.11 L325.50,447.08 L325.90,447.06 L326.30,447.03 L326.70,447.01 L327.10,446.98 L327.50,446.96 L327.90,446.93 L328.30,446.91 L328.70,446.88 L329.10,446.85 L329.50,446.83 L329.90,446.80 L330.30,446.77 L330.70,446.74 L331.10,446.71 L331.50,446.68 L331.90,446.65 L332.30,446.62 L332.70,446.59 L333.10,446.55 L333.50,446.52 L333.90,446.49 L334.30,446.45 L334.70,446.42 L335.10,446.38 L335.50,446.34 L335.90,446.31 L336.30,446.27 L336.70,446.23 L337.10,446.19 L337.50,446.15 L337.90,446.11 L338.30,446.07 L338.70,446.02 L339.10,445.98 L339.50,445.94 L339.90,445.89 L340.30,445.84 L340.70,445.80 L341.10,445.75 L341.50,445.70 L341.90,445.65 L342.30,445.60 L342.70,445.54 L343.10,445.49 L343.50,445.43 L343.90,445.38 L344.30,445.32 L344.70,445.26 L345.10,445.20 L345.50,445.14 L345.90,445.08 L346.30,445.01 L346.70,444.94 L347.10,444.88 L347.50,444.81 L347.90,444.74 L348.30,444.66 L348.70,444.59 L349.10,444.51 L349.50,444.43 L349.90,444.35 L350.30,444.27 L350.70,444.18 L351.10,444.10 L351.50,444.01 L351.90,443.92 L352.30,443.82 L352.70,443.73 L353.10,443.63 L353.50,443.53 L353.90,443.42 L354.30,443.31 L354.70,443.20 L355.10,443.09 L355.50,442.97 L355.90,442.85 L356.30,442.73 L356.70,442.60 L357.10,442.47 L357.50,442.34 L357.90,442.20 L358.30,442.06 L358.70,441.91 L359.10,441.76 L359.50,441.60 L359.90,441.44 L360.30,441.27 L360.70,441.10 L361.10,440.92 L361.50,440.74 L361.90,440.55 L362.30,440.35 L362.70,440.15 L363.10,439.94 L363.50,439.72 L363.90,439.50 L364.30,439.27 L364.70,439.03 L365.10,438.78 L365.50,438.52 L365.90,438.26 L366.30,437.98 L366.70,437.69 L367.10,437.39 L367.50,437.08 L367.90,436.76 L368.30,436.43 L368.70,436.08 L369.10,435.72 L369.50,435.34 L369.90,434.95 L370.30,434.55 L370.70,434.12 L371.10,433.68 L371.50,433.22 L371.90,432.74 L372.30,432.24 L372.70,431.72 L373.10,431.17 L373.50,430.60 L373.90,430.01 L374.30,429.39 L374.70,428.73 L375.10,428.05 L375.50,427.34 L375.90,426.59 L376.30,425.81 L376.70,424.99 L377.10,424.13 L377.50,423.22 L377.90,422.27 L378.30,421.28 L378.70,420.24 L379.10,419.14 L379.50,417.99 L379.90,416.78 L380.30,415.51 L380.70,414.17 L381.10,412.77 L381.50,411.29 L381.90,409.75 L382.30,408.12 L382.70,406.42 L383.10,404.63 L383.50,402.76 L383.90,400.80 L384.30,398.75 L384.70,396.61 L385.10,394.38 L385.50,392.06 L385.90,389.66 L386.30,387.17 L386.70,384.61 L387.10,381.97 L387.50,379.28 L387.90,376.54 L388.30,373.78 L388.70,371.00 L389.10,368.24 L389.50,365.52 L389.90,362.87 L390.30,360.33 L390.70,357.93 L391.10,355.71 L391.50,353.70 L391.90,351.96 L392.30,350.51 L392.70,349.40 L393.10,348.66 L393.50,348.32 L393.90,348.43 L394.30,348.98 L394.70,349.91 L395.10,351.20 L395.50,352.80 L395.90,354.68 L396.30,356.79 L396.70,359.11 L397.10,361.59 L397.50,364.19 L397.90,366.88 L398.30,369.62 L398.70,372.39 L399.10,375.16 L399.50,377.92 L399.90,380.63 L400.30,383.30 L400.70,385.90 L401.10,388.43 L401.50,390.87 L401.90,393.23 L402.30,395.51 L402.70,397.69 L403.10,399.79 L403.50,401.79 L403.90,403.71 L404.30,405.54 L404.70,407.28 L405.10,408.94 L405.50,410.53 L405.90,412.04 L406.30,413.48 L406.70,414.85 L407.10,416.15 L407.50,417.39 L407.90,418.57 L408.30,419.69 L408.70,420.76 L409.10,421.78 L409.50,422.75 L409.90,423.68 L410.30,424.56 L410.70,425.40 L411.10,426.20 L411.50,426.97 L411.90,427.70 L412.30,428.40 L412.70,429.06 L413.10,429.70 L413.50,430.31 L413.90,430.89 L414.30,431.45 L414.70,431.98 L415.10,432.49 L415.50,432.98 L415.90,433.45 L416.30,433.91 L416.70,434.34 L417.10,434.75 L417.50,435.15 L417.90,435.53 L418.30,435.90 L418.70,436.26 L419.10,436.60 L419.50,436.92 L419.90,437.24 L420.30,437.54 L420.70,437.84 L421.10,438.12 L421.50,438.39 L421.90,438.65 L422.30,438.91 L422.70,439.15 L423.10,439.39 L423.50,439.61 L423.90,439.83 L424.30,440.05 L424.70,440.25 L425.10,440.45 L425.50,440.64 L425.90,440.83 L426.30,441.01 L426.70,441.19 L427.10,441.36 L427.50,441.52 L427.90,441.68 L428.30,441.83 L428.70,441.98 L429.10,442.13 L429.50,442.27 L429.90,442.41 L430.30,442.54 L430.70,442.67 L431.10,442.79 L431.50,442.91 L431.90,443.03 L432.30,443.15 L432.70,443.26 L433.10,443.37 L433.50,443.47 L433.90,443.58 L434.30,443.68 L434.70,443.78 L435.10,443.87 L435.50,443.96 L435.90,444.05 L436.30,444.14 L436.70,444.23 L437.10,444.31 L437.50,444.39 L437.90,444.47 L438.30,444.55 L438.70,444.63 L439.10,444.70 L439.50,444.77 L439.90,444.84 L440.30,444.91 L440.70,444.98 L441.10,445.04 L441.50,445.11 L441.90,445.17 L442.30,445.23 L442.70,445.29 L443.10,445.35 L443.50,445.41 L443.90,445.46 L444.30,445.52 L444.70,445.57 L445.10,445.62 L445.50,445.67 L445.90,445.72 L446.30,445.77 L446.70,445.82 L447.10,445.87 L447.50,445.91 L447.90,445.96 L448.30,446.00 L448.70,446.05 L449.10,446.09 L449.50,446.13 L449.90,446.17 L450.30,446.21 L450.70,446.25 L451.10,446.29 L451.50,446.33 L451.90,446.36 L452.30,446.40 L452.70,446.43 L453.10,446.47 L453.50,446.50 L453.90,446.54 L454.30,446.57 L454.70,446.60 L455.10,446.63 L455.50,446.66 L455.90,446.70 L456.30,446.73 L456.70,446.75 L457.10,446.78 L457.50,446.81 L457.90,446.84 L458.30,446.87 L458.70,446.89 L459.10,446.92 L459.50,446.95 L459.90,446.97 L460.30,447.00 L460.70,447.02 L461.10,447.05 L461.50,447.07 L461.90,447.09 L462.30,447.12 L462.70,447.14 L463.10,447.16 L463.50,447.18 L463.90,447.21 L464.30,447.23 L464.70,447.25 L465.10,447.27 L465.50,447.29 L465.90,447.31 L466.30,447.33 L466.70,447.35 L467.10,447.37 L467.50,447.39 L467.90,447.40 L468.30,447.42 L468.70,447.44 L469.10,447.46 L469.50,447.48 L469.90,447.49 L470.30,447.51 L470.70,447.53 L471.10,447.54 L471.50,447.56 L471.90,447.57 L472.30,447.59 L472.70,447.61 L473.10,447.62 L473.50,447.64 L473.90,447.65 L474.30,447.66 L474.70,447.68 L475.10,447.69 L475.50,447.71 L475.90,447.72 L476.30,447.73 L476.70,447.75 L477.10,447.76 L477.50,447.77 L477.90,447.79 L478.30,447.80 L478.70,447.81 L479.10,447.82 L479.50,447.84 L479.90,447.85 L480.30,447.86 L480.70,447.87 L481.10,447.88 L481.50,447.90 L481.90,447.91" fill="none" stroke="#f50a0a" stroke-width="3.5" stroke-linejoin="round" />
<rect x="302.80" y="338.40" width="181.50" height="132.80" fill="none" stroke="#111" stroke-width="1.2"/>
<path d="M306.70,471.20v-1.50M312.48,471.20v-1.50M318.26,471.20v-1.50M324.04,471.20v-1.50M329.82,471.20v-1.50M335.60,471.20v-1.50M341.38,471.20v-1.50M347.16,471.20v-1.50M352.94,471.20v-1.50M358.72,471.20v-1.50M364.50,471.20v-1.50M370.28,471.20v-1.50M376.06,471.20v-1.50M381.84,471.20v-1.50M387.62,471.20v-1.50M393.40,471.20v-1.50M399.18,471.20v-1.50M404.96,471.20v-1.50M410.74,471.20v-1.50M416.52,471.20v-1.50M422.30,471.20v-1.50M428.08,471.20v-1.50M433.86,471.20v-1.50M439.64,471.20v-1.50M445.42,471.20v-1.50M451.20,471.20v-1.50M456.98,471.20v-1.50M462.76,471.20v-1.50M468.54,471.20v-1.50M474.32,471.20v-1.50M480.10,471.20v-1.50" stroke="#111" stroke-width="1.0" fill="none"/>
<path d="M306.70,471.20v-2.30M335.60,471.20v-2.30M364.50,471.20v-2.30M393.40,471.20v-2.30M422.30,471.20v-2.30M451.20,471.20v-2.30M480.10,471.20v-2.30" stroke="#111" stroke-width="1.0" fill="none"/>
<path d="M306.70,338.40v1.50M312.48,338.40v1.50M318.26,338.40v1.50M324.04,338.40v1.50M329.82,338.40v1.50M335.60,338.40v1.50M341.38,338.40v1.50M347.16,338.40v1.50M352.94,338.40v1.50M358.72,338.40v1.50M364.50,338.40v1.50M370.28,338.40v1.50M376.06,338.40v1.50M381.84,338.40v1.50M387.62,338.40v1.50M393.40,338.40v1.50M399.18,338.40v1.50M404.96,338.40v1.50M410.74,338.40v1.50M416.52,338.40v1.50M422.30,338.40v1.50M428.08,338.40v1.50M433.86,338.40v1.50M439.64,338.40v1.50M445.42,338.40v1.50M451.20,338.40v1.50M456.98,338.40v1.50M462.76,338.40v1.50M468.54,338.40v1.50M474.32,338.40v1.50M480.10,338.40v1.50" stroke="#111" stroke-width="1.0" fill="none"/>
<path d="M306.70,338.40v2.30M335.60,338.40v2.30M364.50,338.40v2.30M393.40,338.40v2.30M422.30,338.40v2.30M451.20,338.40v2.30M480.10,338.40v2.30" stroke="#111" stroke-width="1.0" fill="none"/>
<path d="M302.80,468.54h1.50M302.80,462.82h1.50M302.80,457.11h1.50M302.80,451.40h1.50M302.80,445.69h1.50M302.80,439.97h1.50M302.80,434.26h1.50M302.80,428.55h1.50M302.80,422.84h1.50M302.80,417.12h1.50M302.80,411.41h1.50M302.80,405.70h1.50M302.80,399.99h1.50M302.80,394.27h1.50M302.80,388.56h1.50M302.80,382.85h1.50M302.80,377.14h1.50M302.80,371.42h1.50M302.80,365.71h1.50M302.80,360.00h1.50M302.80,354.29h1.50M302.80,348.57h1.50M302.80,342.86h1.50" stroke="#111" stroke-width="1.0" fill="none"/>
<path d="M302.80,451.40h2.30M302.80,428.55h2.30M302.80,405.70h2.30M302.80,382.85h2.30M302.80,360.00h2.30" stroke="#111" stroke-width="1.0" fill="none"/>
<path d="M484.30,468.54h-1.50M484.30,462.82h-1.50M484.30,457.11h-1.50M484.30,451.40h-1.50M484.30,445.69h-1.50M484.30,439.97h-1.50M484.30,434.26h-1.50M484.30,428.55h-1.50M484.30,422.84h-1.50M484.30,417.12h-1.50M484.30,411.41h-1.50M484.30,405.70h-1.50M484.30,399.99h-1.50M484.30,394.27h-1.50M484.30,388.56h-1.50M484.30,382.85h-1.50M484.30,377.14h-1.50M484.30,371.42h-1.50M484.30,365.71h-1.50M484.30,360.00h-1.50M484.30,354.29h-1.50M484.30,348.57h-1.50M484.30,342.86h-1.50" stroke="#111" stroke-width="1.0" fill="none"/>
<path d="M484.30,451.40h-2.30M484.30,428.55h-2.30M484.30,405.70h-2.30M484.30,382.85h-2.30M484.30,360.00h-2.30" stroke="#111" stroke-width="1.0" fill="none"/>
<text transform="translate(309.46,363.40) scale(1.0995,1)" font-family='"Liberation Sans", sans-serif' font-size="20.80" fill="#000"  >Cooling</text>
<text transform="translate(305.82,495.93) scale(1.1423,1)" font-family='"Liberation Sans", sans-serif' font-size="26.76" fill="#000"  >-3.55</text>
<text transform="translate(418.42,495.93) scale(1.1423,1)" font-family='"Liberation Sans", sans-serif' font-size="26.76" fill="#000"  >-3.35</text>
<text transform="translate(265.88,342.80) scale(1.3486,1)" font-family='"Liberation Sans", sans-serif' font-size="27.40" fill="#000"  >(f)</text>
<clipPath id="cg"><rect x="536.3" y="338.5" width="186" height="132.9"/></clipPath>
<rect x="610.7" y="341.5" width="38.7" height="126.7" fill="#5E81B5" fill-opacity="0.19"/>
<path d="M538.40,450.81 L538.80,450.82 L539.20,450.84 L539.60,450.86 L540.00,450.87 L540.40,450.89 L540.80,450.91 L541.20,450.92 L541.60,450.94 L542.00,450.96 L542.40,450.98 L542.80,450.99 L543.20,451.01 L543.60,451.03 L544.00,451.05 L544.40,451.07 L544.80,451.09 L545.20,451.11 L545.60,451.13 L546.00,451.15 L546.40,451.17 L546.80,451.19 L547.20,451.21 L547.60,451.23 L548.00,451.25 L548.40,451.27 L548.80,451.29 L549.20,451.32 L549.60,451.34 L550.00,451.36 L550.40,451.38 L550.80,451.41 L551.20,451.43 L551.60,451.46 L552.00,451.48 L552.40,451.51 L552.80,451.53 L553.20,451.56 L553.60,451.58 L554.00,451.61 L554.40,451.64 L554.80,451.66 L555.20,451.69 L555.60,451.72 L556.00,451.75 L556.40,451.78 L556.80,451.81 L557.20,451.84 L557.60,451.87 L558.00,451.90 L558.40,451.93 L558.80,451.96 L559.20,452.00 L559.60,452.03 L560.00,452.06 L560.40,452.10 L560.80,452.13 L561.20,452.17 L561.60,452.20 L562.00,452.24 L562.40,452.28 L562.80,452.31 L563.20,452.35 L563.60,452.39 L564.00,452.43 L564.40,452.47 L564.80,452.51 L565.20,452.56 L565.60,452.60 L566.00,452.64 L566.40,452.69 L566.80,452.73 L567.20,452.78 L567.60,452.82 L568.00,452.87 L568.40,452.92 L568.80,452.97 L569.20,453.02 L569.60,453.07 L570.00,453.12 L570.40,453.17 L570.80,453.23 L571.20,453.28 L571.60,453.34 L572.00,453.40 L572.40,453.45 L572.80,453.51 L573.20,453.57 L573.60,453.64 L574.00,453.70 L574.40,453.76 L574.80,453.83 L575.20,453.89 L575.60,453.96 L576.00,454.03 L576.40,454.10 L576.80,454.18 L577.20,454.25 L577.60,454.33 L578.00,454.40 L578.40,454.48 L578.80,454.56 L579.20,454.64 L579.60,454.73 L580.00,454.81 L580.40,454.90 L580.80,454.99 L581.20,455.08 L581.60,455.17 L582.00,455.27 L582.40,455.37 L582.80,455.47 L583.20,455.57 L583.60,455.67 L584.00,455.78 L584.40,455.89 L584.80,456.00 L585.20,456.12 L585.60,456.23 L586.00,456.35 L586.40,456.48 L586.80,456.60 L587.20,456.73 L587.60,456.86 L588.00,457.00 L588.40,457.14 L588.80,457.28 L589.20,457.43 L589.60,457.57 L590.00,457.73 L590.40,457.88 L590.80,458.05 L591.20,458.21 L591.60,458.38 L592.00,458.55 L592.40,458.73 L592.80,458.92 L593.20,459.10 L593.60,459.30 L594.00,459.49 L594.40,459.70 L594.80,459.91 L595.20,460.12 L595.60,460.34 L596.00,460.57 L596.40,460.80 L596.80,461.04 L597.20,461.29 L597.60,461.54 L598.00,461.80 L598.40,462.07 L598.80,462.34 L599.20,462.63 L599.60,462.92 L600.00,463.22 L600.40,463.53 L600.80,463.84 L601.20,464.17 L601.60,464.51 L602.00,464.86 L602.40,465.21 L602.80,465.58 L603.20,465.96 L603.60,466.35 L604.00,466.75 L604.40,467.17 L604.80,467.59 L605.20,468.03 L605.60,468.48 L606.00,468.95 L606.40,469.43 L606.80,469.92 L607.20,470.43 L607.60,470.96 L608.00,471.50 L608.40,472.06 L608.80,472.63 L609.20,473.22" fill="none" stroke="#1010f5" stroke-width="3.5" stroke-linejoin="round" clip-path="url(#cg)"/>
<path d="M647.50,473.67 L647.90,473.07 L648.30,472.48 L648.70,471.91 L649.10,471.36 L649.50,470.83 L649.90,470.31 L650.30,469.80 L650.70,469.31 L651.10,468.83 L651.50,468.37 L651.90,467.92 L652.30,467.48 L652.70,467.06 L653.10,466.65 L653.50,466.25 L653.90,465.86 L654.30,465.49 L654.70,465.12 L655.10,464.77 L655.50,464.42 L655.90,464.09 L656.30,463.76 L656.70,463.45 L657.10,463.14 L657.50,462.84 L657.90,462.56 L658.30,462.27 L658.70,462.00 L659.10,461.73 L659.50,461.48 L659.90,461.22 L660.30,460.98 L660.70,460.74 L661.10,460.51 L661.50,460.29 L661.90,460.07 L662.30,459.85 L662.70,459.65 L663.10,459.44 L663.50,459.25 L663.90,459.06 L664.30,458.87 L664.70,458.69 L665.10,458.51 L665.50,458.34 L665.90,458.17 L666.30,458.01 L666.70,457.85 L667.10,457.69 L667.50,457.54 L667.90,457.39 L668.30,457.24 L668.70,457.10 L669.10,456.97 L669.50,456.83 L669.90,456.70 L670.30,456.57 L670.70,456.45 L671.10,456.32 L671.50,456.20 L671.90,456.09 L672.30,455.97 L672.70,455.86 L673.10,455.75 L673.50,455.65 L673.90,455.54 L674.30,455.44 L674.70,455.34 L675.10,455.25 L675.50,455.15 L675.90,455.06 L676.30,454.97 L676.70,454.88 L677.10,454.79 L677.50,454.71 L677.90,454.62 L678.30,454.54 L678.70,454.46 L679.10,454.38 L679.50,454.31 L679.90,454.23 L680.30,454.16 L680.70,454.09 L681.10,454.02 L681.50,453.95 L681.90,453.88 L682.30,453.81 L682.70,453.75 L683.10,453.68 L683.50,453.62 L683.90,453.56 L684.30,453.50 L684.70,453.44 L685.10,453.38 L685.50,453.32 L685.90,453.27 L686.30,453.21 L686.70,453.16 L687.10,453.11 L687.50,453.06 L687.90,453.00 L688.30,452.96 L688.70,452.91 L689.10,452.86 L689.50,452.81 L689.90,452.76 L690.30,452.72 L690.70,452.67 L691.10,452.63 L691.50,452.59 L691.90,452.54 L692.30,452.50 L692.70,452.46 L693.10,452.42 L693.50,452.38 L693.90,452.34 L694.30,452.30 L694.70,452.27 L695.10,452.23 L695.50,452.19 L695.90,452.16 L696.30,452.12 L696.70,452.09 L697.10,452.05 L697.50,452.02 L697.90,451.99 L698.30,451.95 L698.70,451.92 L699.10,451.89 L699.50,451.86 L699.90,451.83 L700.30,451.80 L700.70,451.77 L701.10,451.74 L701.50,451.71 L701.90,451.68 L702.30,451.66 L702.70,451.63 L703.10,451.60 L703.50,451.58 L703.90,451.55 L704.30,451.52 L704.70,451.50 L705.10,451.47 L705.50,451.45 L705.90,451.43 L706.30,451.40 L706.70,451.38 L707.10,451.35 L707.50,451.33 L707.90,451.31 L708.30,451.29 L708.70,451.27 L709.10,451.24 L709.50,451.22 L709.90,451.20 L710.30,451.18 L710.70,451.16 L711.10,451.14 L711.50,451.12 L711.90,451.10 L712.30,451.08 L712.70,451.06 L713.10,451.04 L713.50,451.03 L713.90,451.01 L714.30,450.99 L714.70,450.97 L715.10,450.95 L715.50,450.94 L715.90,450.92 L716.30,450.90 L716.70,450.89 L717.10,450.87 L717.50,450.85 L717.90,450.84 L718.30,450.82 L718.70,450.81 L719.10,450.79 L719.50,450.77" fill="none" stroke="#1010f5" stroke-width="3.5" stroke-linejoin="round" clip-path="url(#cg)"/>
<rect x="536.30" y="338.50" width="186.00" height="132.90" fill="none" stroke="#111" stroke-width="1.2"/>
<path d="M541.24,471.40v-1.50M547.16,471.40v-1.50M553.08,471.40v-1.50M559.00,471.40v-1.50M564.92,471.40v-1.50M570.84,471.40v-1.50M576.76,471.40v-1.50M582.68,471.40v-1.50M588.60,471.40v-1.50M594.52,471.40v-1.50M600.44,471.40v-1.50M606.36,471.40v-1.50M612.28,471.40v-1.50M618.20,471.40v-1.50M624.12,471.40v-1.50M630.04,471.40v-1.50M635.96,471.40v-1.50M641.88,471.40v-1.50M647.80,471.40v-1.50M653.72,471.40v-1.50M659.64,471.40v-1.50M665.56,471.40v-1.50M671.48,471.40v-1.50M677.40,471.40v-1.50M683.32,471.40v-1.50M689.24,471.40v-1.50M695.16,471.40v-1.50M701.08,471.40v-1.50M707.00,471.40v-1.50M712.92,471.40v-1.50M718.84,471.40v-1.50" stroke="#111" stroke-width="1.0" fill="none"/>
<path d="M559.00,471.40v-2.30M588.60,471.40v-2.30M618.20,471.40v-2.30M647.80,471.40v-2.30M677.40,471.40v-2.30M707.00,471.40v-2.30" stroke="#111" stroke-width="1.0" fill="none"/>
<path d="M541.24,338.50v1.50M547.16,338.50v1.50M553.08,338.50v1.50M559.00,338.50v1.50M564.92,338.50v1.50M570.84,338.50v1.50M576.76,338.50v1.50M582.68,338.50v1.50M588.60,338.50v1.50M594.52,338.50v1.50M600.44,338.50v1.50M606.36,338.50v1.50M612.28,338.50v1.50M618.20,338.50v1.50M624.12,338.50v1.50M630.04,338.50v1.50M635.96,338.50v1.50M641.88,338.50v1.50M647.80,338.50v1.50M653.72,338.50v1.50M659.64,338.50v1.50M665.56,338.50v1.50M671.48,338.50v1.50M677.40,338.50v1.50M683.32,338.50v1.50M689.24,338.50v1.50M695.16,338.50v1.50M701.08,338.50v1.50M707.00,338.50v1.50M712.92,338.50v1.50M718.84,338.50v1.50" stroke="#111" stroke-width="1.0" fill="none"/>
<path d="M559.00,338.50v2.30M588.60,338.50v2.30M618.20,338.50v2.30M647.80,338.50v2.30M677.40,338.50v2.30M707.00,338.50v2.30" stroke="#111" stroke-width="1.0" fill="none"/>
<path d="M536.30,468.54h1.50M536.30,462.82h1.50M536.30,457.11h1.50M536.30,451.40h1.50M536.30,445.69h1.50M536.30,439.97h1.50M536.30,434.26h1.50M536.30,428.55h1.50M536.30,422.84h1.50M536.30,417.12h1.50M536.30,411.41h1.50M536.30,405.70h1.50M536.30,399.99h1.50M536.30,394.27h1.50M536.30,388.56h1.50M536.30,382.85h1.50M536.30,377.14h1.50M536.30,371.42h1.50M536.30,365.71h1.50M536.30,360.00h1.50M536.30,354.29h1.50M536.30,348.57h1.50M536.30,342.86h1.50" stroke="#111" stroke-width="1.0" fill="none"/>
<path d="M536.30,451.40h2.30M536.30,428.55h2.30M536.30,405.70h2.30M536.30,382.85h2.30M536.30,360.00h2.30" stroke="#111" stroke-width="1.0" fill="none"/>
<path d="M722.30,468.54h-1.50M722.30,462.82h-1.50M722.30,457.11h-1.50M722.30,451.40h-1.50M722.30,445.69h-1.50M722.30,439.97h-1.50M722.30,434.26h-1.50M722.30,428.55h-1.50M722.30,422.84h-1.50M722.30,417.12h-1.50M722.30,411.41h-1.50M722.30,405.70h-1.50M722.30,399.99h-1.50M722.30,394.27h-1.50M722.30,388.56h-1.50M722.30,382.85h-1.50M722.30,377.14h-1.50M722.30,371.42h-1.50M722.30,365.71h-1.50M722.30,360.00h-1.50M722.30,354.29h-1.50M722.30,348.57h-1.50M722.30,342.86h-1.50" stroke="#111" stroke-width="1.0" fill="none"/>
<path d="M722.30,451.40h-2.30M722.30,428.55h-2.30M722.30,405.70h-2.30M722.30,382.85h-2.30M722.30,360.00h-2.30" stroke="#111" stroke-width="1.0" fill="none"/>
<text transform="translate(542.40,363.80) scale(1.1509,1)" font-family='"Liberation Sans", sans-serif' font-size="20.40" fill="#000"  >Amplification</text>
<text transform="translate(541.99,496.03) scale(1.1068,1)" font-family='"Liberation Sans", sans-serif' font-size="27.32" fill="#000"  >3.35</text>
<text transform="translate(625.28,496.03) scale(1.1127,1)" font-family='"Liberation Sans", sans-serif' font-size="27.32" fill="#000"  >3.55</text>
<text transform="translate(723.75,369.43) scale(1.1454,1)" font-family='"Liberation Sans", sans-serif' font-size="27.32" fill="#000"  >0.5</text>
<text transform="translate(724.30,460.83) scale(1.0993,1)" font-family='"Liberation Sans", sans-serif' font-size="27.32" fill="#000"  >0.1</text>
<text transform="translate(791.40,479.22) rotate(-90) scale(1.0694,1)" font-family='"Liberation Sans", sans-serif' font-size="25.90" fill="#000" >Magnon LW</text>
<text transform="translate(825.00,444.32) rotate(-90) scale(1.1050,1)" font-family='"Liberation Sans", sans-serif' font-size="26.00" fill="#000" >(MHz)</text>
<text transform="translate(492.57,342.10) scale(1.2342,1)" font-family='"Liberation Sans", sans-serif' font-size="27.40" fill="#000"  >(g)</text>
<text transform="translate(391.53,526.30) scale(1.0376,1)" font-family='"Liberation Sans", sans-serif' font-size="27.40" fill="#000"  >Detuning</text>
<text transform="translate(520.48,526.30) scale(0.9932,1)" font-family='"Liberation Sans", sans-serif' font-size="27.40" fill="#000"  >Δ</text>
<text transform="translate(537.67,530.00) scale(1.1810,1)" font-family='"Liberation Sans", sans-serif' font-size="17.50" fill="#000"  >q</text>
<text transform="translate(558.65,526.30) scale(1.0655,1)" font-family='"Liberation Sans", sans-serif' font-size="27.40" fill="#000"  >(GHz)</text>
</svg>
</body></html>
